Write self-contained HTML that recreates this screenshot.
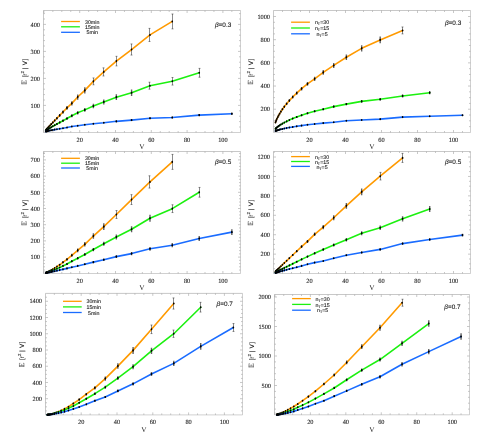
<!DOCTYPE html>
<html><head><meta charset="utf-8"><title>E[r^2|V] panels</title>
<style>
html,body{margin:0;padding:0;background:#fff;}
svg{display:block;}
text{font-family:"Liberation Serif",serif;fill:#222;text-rendering:geometricPrecision;filter:grayscale(1);}
</style></head>
<body>
<svg width="489" height="445" viewBox="0 0 489 445">

<rect width="489" height="445" fill="#fff"/>
<path d="M43.9 132.5v-2.5M43.9 10.5v2.5M52.85 132.5v-1.5M52.85 10.5v1.5M61.8 132.5v-1.5M61.8 10.5v1.5M70.75 132.5v-1.5M70.75 10.5v1.5M79.7 132.5v-2.5M79.7 10.5v2.5M88.65 132.5v-1.5M88.65 10.5v1.5M97.6 132.5v-1.5M97.6 10.5v1.5M106.55 132.5v-1.5M106.55 10.5v1.5M115.5 132.5v-2.5M115.5 10.5v2.5M124.45 132.5v-1.5M124.45 10.5v1.5M133.4 132.5v-1.5M133.4 10.5v1.5M142.35 132.5v-1.5M142.35 10.5v1.5M151.3 132.5v-2.5M151.3 10.5v2.5M160.25 132.5v-1.5M160.25 10.5v1.5M169.2 132.5v-1.5M169.2 10.5v1.5M178.15 132.5v-1.5M178.15 10.5v1.5M187.1 132.5v-2.5M187.1 10.5v2.5M196.05 132.5v-1.5M196.05 10.5v1.5M205 132.5v-1.5M205 10.5v1.5M213.95 132.5v-1.5M213.95 10.5v1.5M222.9 132.5v-2.5M222.9 10.5v2.5M231.85 132.5v-1.5M231.85 10.5v1.5M43.5 127h1.5M240.5 127h-1.5M43.5 121.6h1.5M240.5 121.6h-1.5M43.5 116.2h1.5M240.5 116.2h-1.5M43.5 110.8h1.5M240.5 110.8h-1.5M43.5 105.4h2.5M240.5 105.4h-2.5M43.5 100h1.5M240.5 100h-1.5M43.5 94.6h1.5M240.5 94.6h-1.5M43.5 89.2h1.5M240.5 89.2h-1.5M43.5 83.8h1.5M240.5 83.8h-1.5M43.5 78.4h2.5M240.5 78.4h-2.5M43.5 73h1.5M240.5 73h-1.5M43.5 67.6h1.5M240.5 67.6h-1.5M43.5 62.2h1.5M240.5 62.2h-1.5M43.5 56.8h1.5M240.5 56.8h-1.5M43.5 51.4h2.5M240.5 51.4h-2.5M43.5 46h1.5M240.5 46h-1.5M43.5 40.6h1.5M240.5 40.6h-1.5M43.5 35.2h1.5M240.5 35.2h-1.5M43.5 29.8h1.5M240.5 29.8h-1.5M43.5 24.4h2.5M240.5 24.4h-2.5M43.5 19h1.5M240.5 19h-1.5M43.5 13.6h1.5M240.5 13.6h-1.5" stroke="#909090" stroke-width="0.5" fill="none"/>
<path d="M43.5 132.5V10.5H240.5" fill="none" stroke="#9c9c9c" stroke-width="0.56"/>
<path d="M43.5 132.5H240.5V10.5" fill="none" stroke="#9c9c9c" stroke-width="0.48"/>
<text transform="translate(79.70 141.70)" fill="#222" stroke="#222" stroke-width="0.1" xml:space="preserve"><tspan x="-3.15" y="0.00" font-family='"Liberation Serif", serif' font-size="6.3">20</tspan></text>
<text transform="translate(115.50 141.70)" fill="#222" stroke="#222" stroke-width="0.1" xml:space="preserve"><tspan x="-3.15" y="0.00" font-family='"Liberation Serif", serif' font-size="6.3">40</tspan></text>
<text transform="translate(151.30 141.70)" fill="#222" stroke="#222" stroke-width="0.1" xml:space="preserve"><tspan x="-3.15" y="0.00" font-family='"Liberation Serif", serif' font-size="6.3">60</tspan></text>
<text transform="translate(187.10 141.70)" fill="#222" stroke="#222" stroke-width="0.1" xml:space="preserve"><tspan x="-3.15" y="0.00" font-family='"Liberation Serif", serif' font-size="6.3">80</tspan></text>
<text transform="translate(222.90 141.70)" fill="#222" stroke="#222" stroke-width="0.1" xml:space="preserve"><tspan x="-4.72" y="0.00" font-family='"Liberation Serif", serif' font-size="6.3">100</tspan></text>
<text transform="translate(40.00 107.60)" fill="#222" stroke="#222" stroke-width="0.1" xml:space="preserve"><tspan x="-9.45" y="0.00" font-family='"Liberation Serif", serif' font-size="6.3">100</tspan></text>
<text transform="translate(40.00 80.60)" fill="#222" stroke="#222" stroke-width="0.1" xml:space="preserve"><tspan x="-9.45" y="0.00" font-family='"Liberation Serif", serif' font-size="6.3">200</tspan></text>
<text transform="translate(40.00 53.60)" fill="#222" stroke="#222" stroke-width="0.1" xml:space="preserve"><tspan x="-9.45" y="0.00" font-family='"Liberation Serif", serif' font-size="6.3">300</tspan></text>
<text transform="translate(40.00 26.60)" fill="#222" stroke="#222" stroke-width="0.1" xml:space="preserve"><tspan x="-9.45" y="0.00" font-family='"Liberation Serif", serif' font-size="6.3">400</tspan></text>
<text transform="translate(142.00 149.20)" fill="#333" xml:space="preserve"><tspan x="-2.67" y="0.00" font-family='"Liberation Serif", serif' font-size="7.4">V</tspan></text>
<g transform="translate(26.5 71.5) rotate(-90)"><path d="M-12.35 0V-5.00M-11.40 0V-5.00M-12.65 -0.25H-8.95M-12.65 -4.75H-8.95M-11.40 -2.50H-9.75M-9.15 -0.25v-0.9M-9.15 -4.75v0.9" stroke="#222" stroke-width="0.42" fill="none"/></g>
<text transform="translate(26.50 71.50) rotate(-90)" fill="#222" stroke="#222" stroke-width="0.1"><tspan x="-5.85" y="0.00" font-family='"Liberation Sans", sans-serif' font-size="6.3">[</tspan><tspan x="-4.15" y="0.00" font-family='"Liberation Sans", sans-serif' font-size="6.3">r</tspan><tspan x="-1.95" y="-2.90" font-family='"Liberation Sans", sans-serif' font-size="4.3">2</tspan><tspan x="2.25" y="0.00" font-family='"Liberation Sans", sans-serif' font-size="6.3">|</tspan><tspan x="6.20" y="0.00" font-family='"Liberation Sans", sans-serif' font-size="6.3">V</tspan><tspan x="10.95" y="0.00" font-family='"Liberation Sans", sans-serif' font-size="6.3">]</tspan></text>
<path d="M61.1 21.5H79.9" stroke="#FF9A00" stroke-width="1.3" fill="none"/>
<text transform="translate(92.20 23.60)" fill="#2a2a2a" stroke="#2a2a2a" stroke-width="0.12" xml:space="preserve"><tspan x="-7.22" y="0.00" font-family='"Liberation Sans", sans-serif' font-size="5.3">30min</tspan></text>
<path d="M61.1 26.8H79.9" stroke="#1CF010" stroke-width="1.3" fill="none"/>
<text transform="translate(92.20 28.90)" fill="#2a2a2a" stroke="#2a2a2a" stroke-width="0.12" xml:space="preserve"><tspan x="-7.22" y="0.00" font-family='"Liberation Sans", sans-serif' font-size="5.3">15min</tspan></text>
<path d="M61.1 32.3H79.9" stroke="#1A6CFF" stroke-width="1.3" fill="none"/>
<text transform="translate(92.20 34.40)" fill="#2a2a2a" stroke="#2a2a2a" stroke-width="0.12" xml:space="preserve"><tspan x="-5.74" y="0.00" font-family='"Liberation Sans", sans-serif' font-size="5.3">5min</tspan></text>
<text transform="translate(223.10 26.80)" fill="#2a2a2a" stroke="#2a2a2a" stroke-width="0.12" xml:space="preserve"><tspan x="-8.15" y="0.00" font-family='"Liberation Sans", sans-serif' font-size="6.4" font-style="italic">β</tspan><tspan x="-4.49" y="0.00" font-family='"Liberation Sans", sans-serif' font-size="6.4">=0.3</tspan></text>
<path d="M172.27 21.43L149.99 34.93L131.58 49.51L116.36 61.12L103.79 71.92L93.39 81.37L84.8 90.42L77.7 97.03L71.84 103.35L66.99 107.91L62.98 112.02L59.67 115.39L56.93 118.21L54.67 120.56L52.8 122.52L51.26 124.16L49.98 125.52L48.92 126.66L48.05 127.61L47.33 128.41L46.74 129.07L46.24 129.62L45.84 130.08" stroke="#FF9A00" stroke-width="1.6" fill="none" stroke-linejoin="round" stroke-linecap="round"/>
<path d="M172.5 14V28.86M171.55 14h1.9M171.55 28.86h1.9M149.5 28.4V41.46M148.55 28.4h1.9M148.55 41.46h1.9M131.5 43.96V55.06M130.55 43.96h1.9M130.55 55.06h1.9M116.5 56.34V65.9M115.55 56.34h1.9M115.55 65.9h1.9M103.5 67.87V75.97M102.55 67.87h1.9M102.55 75.97h1.9M93.5 77.95V84.79M92.55 77.95h1.9M92.55 84.79h1.9M49.98 125.06V125.98M48.92 126.28V127.05M48.05 127.26V127.96M47.33 128.06V128.76M46.74 128.72V129.42M46.24 129.27V129.97M45.84 129.73V130.43" stroke="#2a2a2a" stroke-width="0.55" fill="none"/>
<path d="M84.1 87.35h1.4v6.13h-1.4zM77 94.41h1.4v5.24h-1.4zM71.14 101.15h1.4v4.39h-1.4zM66.29 106.02h1.4v3.78h-1.4zM62.28 110.4h1.4v3.23h-1.4zM58.97 114h1.4v2.78h-1.4zM56.23 117.01h1.4v2.4h-1.4zM53.97 119.52h1.4v2.09h-1.4zM52.1 121.61h1.4v1.82h-1.4zM50.56 123.35h1.4v1.6h-1.4z" fill="#000" fill-opacity="0.62"/>
<g fill="#000"><ellipse cx="172.27" cy="21.43" rx="0.82" ry="1.05"/><ellipse cx="149.99" cy="34.93" rx="0.82" ry="1.05"/><ellipse cx="131.58" cy="49.51" rx="0.82" ry="1.05"/><ellipse cx="116.36" cy="61.12" rx="0.82" ry="1.05"/><ellipse cx="103.79" cy="71.92" rx="0.82" ry="1.05"/><ellipse cx="93.39" cy="81.37" rx="0.82" ry="1.05"/><ellipse cx="84.8" cy="90.42" rx="0.82" ry="1.05"/><ellipse cx="77.7" cy="97.03" rx="0.82" ry="1.05"/><ellipse cx="71.84" cy="103.35" rx="0.82" ry="1.05"/><ellipse cx="66.99" cy="107.91" rx="0.82" ry="1.05"/><ellipse cx="62.98" cy="112.02" rx="0.82" ry="1.05"/><ellipse cx="59.67" cy="115.39" rx="0.82" ry="1.05"/><ellipse cx="56.93" cy="118.21" rx="0.82" ry="1.05"/><ellipse cx="54.67" cy="120.56" rx="0.82" ry="1.05"/><ellipse cx="52.8" cy="122.52" rx="0.82" ry="1.05"/><ellipse cx="51.26" cy="124.16" rx="0.82" ry="1.05"/><ellipse cx="49.98" cy="125.52" rx="0.82" ry="1.05"/><ellipse cx="48.92" cy="126.66" rx="0.82" ry="1.05"/><ellipse cx="48.05" cy="127.61" rx="0.82" ry="1.05"/><ellipse cx="47.33" cy="128.41" rx="0.82" ry="1.05"/><ellipse cx="46.74" cy="129.07" rx="0.82" ry="1.05"/><ellipse cx="46.24" cy="129.62" rx="0.82" ry="1.05"/><ellipse cx="45.84" cy="130.08" rx="0.82" ry="1.05"/></g>
<path d="M199.23 72.81L172.27 81.29L149.99 85.69L131.58 92.71L116.36 97.17L103.79 101.89L93.39 105.94L84.8 109.88L77.7 112.83L71.84 115.77L66.99 118.55L62.98 120.68L59.67 122.43L56.93 123.93L54.67 125.19L52.8 126.27L51.26 127.19L49.98 127.97L48.92 128.63L48.05 129.19L47.33 129.67L46.74 130.08L46.24 130.43L45.84 130.72" stroke="#1CF010" stroke-width="1.6" fill="none" stroke-linejoin="round" stroke-linecap="round"/>
<path d="M199.5 68.4V77.22M198.55 68.4h1.9M198.55 77.22h1.9M172.5 77.51V85.07M171.55 77.51h1.9M171.55 85.07h1.9M149.5 82.23V89.15M148.55 82.23h1.9M148.55 89.15h1.9M52.8 125.82V126.72M51.26 126.8V127.57M49.98 127.62V128.32M48.92 128.28V128.98M48.05 128.84V129.54M47.33 129.32V130.02M46.74 129.73V130.43M46.24 130.08V130.78M45.84 130.37V131.07" stroke="#2a2a2a" stroke-width="0.55" fill="none"/>
<path d="M130.88 89.52h1.4v6.37h-1.4zM115.66 94.31h1.4v5.71h-1.4zM103.09 99.38h1.4v5.02h-1.4zM92.69 103.73h1.4v4.42h-1.4zM84.1 107.97h1.4v3.83h-1.4zM77 111.13h1.4v3.4h-1.4zM71.14 114.29h1.4v2.96h-1.4zM66.29 117.27h1.4v2.55h-1.4zM62.28 119.56h1.4v2.23h-1.4zM58.97 121.45h1.4v1.97h-1.4zM56.23 123.05h1.4v1.75h-1.4zM53.97 124.41h1.4v1.57h-1.4z" fill="#000" fill-opacity="0.62"/>
<g fill="#000"><ellipse cx="199.23" cy="72.81" rx="0.82" ry="1.05"/><ellipse cx="172.27" cy="81.29" rx="0.82" ry="1.05"/><ellipse cx="149.99" cy="85.69" rx="0.82" ry="1.05"/><ellipse cx="131.58" cy="92.71" rx="0.82" ry="1.05"/><ellipse cx="116.36" cy="97.17" rx="0.82" ry="1.05"/><ellipse cx="103.79" cy="101.89" rx="0.82" ry="1.05"/><ellipse cx="93.39" cy="105.94" rx="0.82" ry="1.05"/><ellipse cx="84.8" cy="109.88" rx="0.82" ry="1.05"/><ellipse cx="77.7" cy="112.83" rx="0.82" ry="1.05"/><ellipse cx="71.84" cy="115.77" rx="0.82" ry="1.05"/><ellipse cx="66.99" cy="118.55" rx="0.82" ry="1.05"/><ellipse cx="62.98" cy="120.68" rx="0.82" ry="1.05"/><ellipse cx="59.67" cy="122.43" rx="0.82" ry="1.05"/><ellipse cx="56.93" cy="123.93" rx="0.82" ry="1.05"/><ellipse cx="54.67" cy="125.19" rx="0.82" ry="1.05"/><ellipse cx="52.8" cy="126.27" rx="0.82" ry="1.05"/><ellipse cx="51.26" cy="127.19" rx="0.82" ry="1.05"/><ellipse cx="49.98" cy="127.97" rx="0.82" ry="1.05"/><ellipse cx="48.92" cy="128.63" rx="0.82" ry="1.05"/><ellipse cx="48.05" cy="129.19" rx="0.82" ry="1.05"/><ellipse cx="47.33" cy="129.67" rx="0.82" ry="1.05"/><ellipse cx="46.74" cy="130.08" rx="0.82" ry="1.05"/><ellipse cx="46.24" cy="130.43" rx="0.82" ry="1.05"/><ellipse cx="45.84" cy="130.72" rx="0.82" ry="1.05"/></g>
<path d="M231.85 113.77L199.23 115.12L172.27 117.55L149.99 118.23L131.58 120.09L116.36 121.33L103.79 122.81L93.39 123.79L84.8 124.76L77.7 125.76L71.84 126.57L66.99 127.57L62.98 128.22L59.67 128.74L56.93 129.2L54.67 129.6L52.8 129.95L51.26 130.25L49.98 130.52L48.92 130.76L48.05 130.96L47.33 131.14L46.74 131.3L46.24 131.44L45.84 131.56" stroke="#1A6CFF" stroke-width="1.6" fill="none" stroke-linejoin="round" stroke-linecap="round"/>
<path d="M103.79 122.34V123.29M93.39 123.36V124.22M84.8 124.38V125.14M77.7 125.41V126.11M71.84 126.22V126.92M66.99 127.22V127.92M62.98 127.87V128.56M59.67 128.39V129.09M56.93 128.85V129.55M54.67 129.25V129.95M52.8 129.6V130.3M51.26 129.9V130.6M49.98 130.17V130.87M48.92 130.41V131.11M48.05 130.61V131.31M47.33 130.79V131.49M46.74 130.95V131.65M46.24 131.09V131.79M45.84 131.21V131.91" stroke="#2a2a2a" stroke-width="0.55" fill="none"/>
<path d="M231.15 112.59h1.4v2.36h-1.4zM198.53 114.01h1.4v2.23h-1.4zM171.57 116.56h1.4v1.99h-1.4zM149.29 117.27h1.4v1.92h-1.4zM130.88 119.22h1.4v1.73h-1.4zM115.66 120.53h1.4v1.61h-1.4z" fill="#000" fill-opacity="0.62"/>
<g fill="#000"><ellipse cx="231.85" cy="113.77" rx="0.82" ry="1.05"/><ellipse cx="199.23" cy="115.12" rx="0.82" ry="1.05"/><ellipse cx="172.27" cy="117.55" rx="0.82" ry="1.05"/><ellipse cx="149.99" cy="118.23" rx="0.82" ry="1.05"/><ellipse cx="131.58" cy="120.09" rx="0.82" ry="1.05"/><ellipse cx="116.36" cy="121.33" rx="0.82" ry="1.05"/><ellipse cx="103.79" cy="122.81" rx="0.82" ry="1.05"/><ellipse cx="93.39" cy="123.79" rx="0.82" ry="1.05"/><ellipse cx="84.8" cy="124.76" rx="0.82" ry="1.05"/><ellipse cx="77.7" cy="125.76" rx="0.82" ry="1.05"/><ellipse cx="71.84" cy="126.57" rx="0.82" ry="1.05"/><ellipse cx="66.99" cy="127.57" rx="0.82" ry="1.05"/><ellipse cx="62.98" cy="128.22" rx="0.82" ry="1.05"/><ellipse cx="59.67" cy="128.74" rx="0.82" ry="1.05"/><ellipse cx="56.93" cy="129.2" rx="0.82" ry="1.05"/><ellipse cx="54.67" cy="129.6" rx="0.82" ry="1.05"/><ellipse cx="52.8" cy="129.95" rx="0.82" ry="1.05"/><ellipse cx="51.26" cy="130.25" rx="0.82" ry="1.05"/><ellipse cx="49.98" cy="130.52" rx="0.82" ry="1.05"/><ellipse cx="48.92" cy="130.76" rx="0.82" ry="1.05"/><ellipse cx="48.05" cy="130.96" rx="0.82" ry="1.05"/><ellipse cx="47.33" cy="131.14" rx="0.82" ry="1.05"/><ellipse cx="46.74" cy="131.3" rx="0.82" ry="1.05"/><ellipse cx="46.24" cy="131.44" rx="0.82" ry="1.05"/><ellipse cx="45.84" cy="131.56" rx="0.82" ry="1.05"/></g>
<path d="M282.5 132.5v-1.5M282.5 10.5v1.5M291.5 132.5v-1.5M291.5 10.5v1.5M300.5 132.5v-1.5M300.5 10.5v1.5M309.5 132.5v-2.5M309.5 10.5v2.5M318.5 132.5v-1.5M318.5 10.5v1.5M327.5 132.5v-1.5M327.5 10.5v1.5M336.5 132.5v-1.5M336.5 10.5v1.5M345.5 132.5v-2.5M345.5 10.5v2.5M354.5 132.5v-1.5M354.5 10.5v1.5M363.5 132.5v-1.5M363.5 10.5v1.5M372.5 132.5v-1.5M372.5 10.5v1.5M381.5 132.5v-2.5M381.5 10.5v2.5M390.5 132.5v-1.5M390.5 10.5v1.5M399.5 132.5v-1.5M399.5 10.5v1.5M408.5 132.5v-1.5M408.5 10.5v1.5M417.5 132.5v-2.5M417.5 10.5v2.5M426.5 132.5v-1.5M426.5 10.5v1.5M435.5 132.5v-1.5M435.5 10.5v1.5M444.5 132.5v-1.5M444.5 10.5v1.5M453.5 132.5v-2.5M453.5 10.5v2.5M462.5 132.5v-1.5M462.5 10.5v1.5M273.5 126.61h1.5M470.5 126.61h-1.5M273.5 120.81h1.5M470.5 120.81h-1.5M273.5 115.02h1.5M470.5 115.02h-1.5M273.5 109.22h2.5M470.5 109.22h-2.5M273.5 103.43h1.5M470.5 103.43h-1.5M273.5 97.63h1.5M470.5 97.63h-1.5M273.5 91.84h1.5M470.5 91.84h-1.5M273.5 86.04h2.5M470.5 86.04h-2.5M273.5 80.25h1.5M470.5 80.25h-1.5M273.5 74.45h1.5M470.5 74.45h-1.5M273.5 68.66h1.5M470.5 68.66h-1.5M273.5 62.86h2.5M470.5 62.86h-2.5M273.5 57.06h1.5M470.5 57.06h-1.5M273.5 51.27h1.5M470.5 51.27h-1.5M273.5 45.48h1.5M470.5 45.48h-1.5M273.5 39.68h2.5M470.5 39.68h-2.5M273.5 33.89h1.5M470.5 33.89h-1.5M273.5 28.09h1.5M470.5 28.09h-1.5M273.5 22.3h1.5M470.5 22.3h-1.5M273.5 16.5h2.5M470.5 16.5h-2.5" stroke="#909090" stroke-width="0.5" fill="none"/>
<path d="M273.5 132.5V10.5H470.5" fill="none" stroke="#9c9c9c" stroke-width="0.56"/>
<path d="M273.5 132.5H470.5V10.5" fill="none" stroke="#9c9c9c" stroke-width="0.48"/>
<text transform="translate(309.50 141.70)" fill="#222" stroke="#222" stroke-width="0.1" xml:space="preserve"><tspan x="-3.15" y="0.00" font-family='"Liberation Serif", serif' font-size="6.3">20</tspan></text>
<text transform="translate(345.50 141.70)" fill="#222" stroke="#222" stroke-width="0.1" xml:space="preserve"><tspan x="-3.15" y="0.00" font-family='"Liberation Serif", serif' font-size="6.3">40</tspan></text>
<text transform="translate(381.50 141.70)" fill="#222" stroke="#222" stroke-width="0.1" xml:space="preserve"><tspan x="-3.15" y="0.00" font-family='"Liberation Serif", serif' font-size="6.3">60</tspan></text>
<text transform="translate(417.50 141.70)" fill="#222" stroke="#222" stroke-width="0.1" xml:space="preserve"><tspan x="-3.15" y="0.00" font-family='"Liberation Serif", serif' font-size="6.3">80</tspan></text>
<text transform="translate(453.50 141.70)" fill="#222" stroke="#222" stroke-width="0.1" xml:space="preserve"><tspan x="-4.72" y="0.00" font-family='"Liberation Serif", serif' font-size="6.3">100</tspan></text>
<text transform="translate(270.00 111.42)" fill="#222" stroke="#222" stroke-width="0.1" xml:space="preserve"><tspan x="-9.45" y="0.00" font-family='"Liberation Serif", serif' font-size="6.3">200</tspan></text>
<text transform="translate(270.00 88.24)" fill="#222" stroke="#222" stroke-width="0.1" xml:space="preserve"><tspan x="-9.45" y="0.00" font-family='"Liberation Serif", serif' font-size="6.3">400</tspan></text>
<text transform="translate(270.00 65.06)" fill="#222" stroke="#222" stroke-width="0.1" xml:space="preserve"><tspan x="-9.45" y="0.00" font-family='"Liberation Serif", serif' font-size="6.3">600</tspan></text>
<text transform="translate(270.00 41.88)" fill="#222" stroke="#222" stroke-width="0.1" xml:space="preserve"><tspan x="-9.45" y="0.00" font-family='"Liberation Serif", serif' font-size="6.3">800</tspan></text>
<text transform="translate(270.00 18.70)" fill="#222" stroke="#222" stroke-width="0.1" xml:space="preserve"><tspan x="-12.60" y="0.00" font-family='"Liberation Serif", serif' font-size="6.3">1000</tspan></text>
<text transform="translate(372.00 149.20)" fill="#333" xml:space="preserve"><tspan x="-2.67" y="0.00" font-family='"Liberation Serif", serif' font-size="7.4">V</tspan></text>
<g transform="translate(252.9 71.5) rotate(-90)"><path d="M-12.35 0V-5.00M-11.40 0V-5.00M-12.65 -0.25H-8.95M-12.65 -4.75H-8.95M-11.40 -2.50H-9.75M-9.15 -0.25v-0.9M-9.15 -4.75v0.9" stroke="#222" stroke-width="0.42" fill="none"/></g>
<text transform="translate(252.90 71.50) rotate(-90)" fill="#222" stroke="#222" stroke-width="0.1"><tspan x="-5.85" y="0.00" font-family='"Liberation Sans", sans-serif' font-size="6.3">[</tspan><tspan x="-4.15" y="0.00" font-family='"Liberation Sans", sans-serif' font-size="6.3">r</tspan><tspan x="-1.95" y="-2.90" font-family='"Liberation Sans", sans-serif' font-size="4.3">2</tspan><tspan x="2.25" y="0.00" font-family='"Liberation Sans", sans-serif' font-size="6.3">|</tspan><tspan x="6.20" y="0.00" font-family='"Liberation Sans", sans-serif' font-size="6.3">V</tspan><tspan x="10.95" y="0.00" font-family='"Liberation Sans", sans-serif' font-size="6.3">]</tspan></text>
<path d="M291.1 22.2H309.9" stroke="#FF9A00" stroke-width="1.3" fill="none"/>
<text transform="translate(322.00 24.30)" fill="#2a2a2a" stroke="#2a2a2a" stroke-width="0.12" xml:space="preserve"><tspan x="-7.10" y="0.00" font-family='"Liberation Sans", sans-serif' font-size="5.3">n</tspan><tspan x="-4.15" y="1.10" font-family='"Liberation Sans", sans-serif' font-size="3.7">T</tspan><tspan x="-1.89" y="0.00" font-family='"Liberation Sans", sans-serif' font-size="5.3">=30</tspan></text>
<path d="M291.1 28H309.9" stroke="#1CF010" stroke-width="1.3" fill="none"/>
<text transform="translate(322.00 30.10)" fill="#2a2a2a" stroke="#2a2a2a" stroke-width="0.12" xml:space="preserve"><tspan x="-7.10" y="0.00" font-family='"Liberation Sans", sans-serif' font-size="5.3">n</tspan><tspan x="-4.15" y="1.10" font-family='"Liberation Sans", sans-serif' font-size="3.7">T</tspan><tspan x="-1.89" y="0.00" font-family='"Liberation Sans", sans-serif' font-size="5.3">=15</tspan></text>
<path d="M291.1 33.8H309.9" stroke="#1A6CFF" stroke-width="1.3" fill="none"/>
<text transform="translate(322.00 35.90)" fill="#2a2a2a" stroke="#2a2a2a" stroke-width="0.12" xml:space="preserve"><tspan x="-5.63" y="0.00" font-family='"Liberation Sans", sans-serif' font-size="5.3">n</tspan><tspan x="-2.68" y="1.10" font-family='"Liberation Sans", sans-serif' font-size="3.7">T</tspan><tspan x="-0.42" y="0.00" font-family='"Liberation Sans", sans-serif' font-size="5.3">=5</tspan></text>
<text transform="translate(453.10 25.00)" fill="#2a2a2a" stroke="#2a2a2a" stroke-width="0.12" xml:space="preserve"><tspan x="-8.15" y="0.00" font-family='"Liberation Sans", sans-serif' font-size="6.4" font-style="italic">β</tspan><tspan x="-4.49" y="0.00" font-family='"Liberation Sans", sans-serif' font-size="6.4">=0.3</tspan></text>
<path d="M402.59 30.43L380.19 39.9L361.67 48.33L346.37 57.23L333.72 65.43L323.27 72.4L314.63 78.82L307.49 83.91L301.59 88.64L296.72 93.06L292.69 97.02L289.36 100.59L286.61 103.8L284.33 106.68L282.45 109.27L280.9 111.6L279.61 113.69L278.55 115.57L277.68 117.26L276.95 118.78L276.35 120.15L275.86 121.38L275.45 122.48" stroke="#FF9A00" stroke-width="1.6" fill="none" stroke-linejoin="round" stroke-linecap="round"/>
<path d="M402.5 26.97V33.89M401.55 26.97h1.9M401.55 33.89h1.9M276.95 118.32V119.24M276.35 119.74V120.56M275.86 121.01V121.75M275.45 122.13V122.83" stroke="#2a2a2a" stroke-width="0.55" fill="none"/>
<path d="M379.49 36.51h1.4v6.78h-1.4zM360.97 45.23h1.4v6.21h-1.4zM345.67 54.42h1.4v5.61h-1.4zM333.02 62.9h1.4v5.05h-1.4zM322.57 70.12h1.4v4.57h-1.4zM313.93 76.76h1.4v4.14h-1.4zM306.79 82.01h1.4v3.79h-1.4zM300.89 86.91h1.4v3.47h-1.4zM296.02 91.47h1.4v3.17h-1.4zM291.99 95.57h1.4v2.9h-1.4zM288.66 99.26h1.4v2.66h-1.4zM285.91 102.58h1.4v2.44h-1.4zM283.63 105.56h1.4v2.24h-1.4zM281.75 108.24h1.4v2.07h-1.4zM280.2 110.64h1.4v1.91h-1.4zM278.91 112.81h1.4v1.77h-1.4zM277.85 114.75h1.4v1.64h-1.4zM276.98 116.5h1.4v1.52h-1.4z" fill="#000" fill-opacity="0.62"/>
<g fill="#000"><ellipse cx="402.59" cy="30.43" rx="0.82" ry="1.05"/><ellipse cx="380.19" cy="39.9" rx="0.82" ry="1.05"/><ellipse cx="361.67" cy="48.33" rx="0.82" ry="1.05"/><ellipse cx="346.37" cy="57.23" rx="0.82" ry="1.05"/><ellipse cx="333.72" cy="65.43" rx="0.82" ry="1.05"/><ellipse cx="323.27" cy="72.4" rx="0.82" ry="1.05"/><ellipse cx="314.63" cy="78.82" rx="0.82" ry="1.05"/><ellipse cx="307.49" cy="83.91" rx="0.82" ry="1.05"/><ellipse cx="301.59" cy="88.64" rx="0.82" ry="1.05"/><ellipse cx="296.72" cy="93.06" rx="0.82" ry="1.05"/><ellipse cx="292.69" cy="97.02" rx="0.82" ry="1.05"/><ellipse cx="289.36" cy="100.59" rx="0.82" ry="1.05"/><ellipse cx="286.61" cy="103.8" rx="0.82" ry="1.05"/><ellipse cx="284.33" cy="106.68" rx="0.82" ry="1.05"/><ellipse cx="282.45" cy="109.27" rx="0.82" ry="1.05"/><ellipse cx="280.9" cy="111.6" rx="0.82" ry="1.05"/><ellipse cx="279.61" cy="113.69" rx="0.82" ry="1.05"/><ellipse cx="278.55" cy="115.57" rx="0.82" ry="1.05"/><ellipse cx="277.68" cy="117.26" rx="0.82" ry="1.05"/><ellipse cx="276.95" cy="118.78" rx="0.82" ry="1.05"/><ellipse cx="276.35" cy="120.15" rx="0.82" ry="1.05"/><ellipse cx="275.86" cy="121.38" rx="0.82" ry="1.05"/><ellipse cx="275.45" cy="122.48" rx="0.82" ry="1.05"/></g>
<path d="M429.7 92.68L402.59 95.92L380.19 99.3L361.67 101.35L346.37 104.12L333.72 106.6L323.27 109.2L314.63 111.2L307.49 113.3L301.59 115.32L296.72 116.94L292.69 118.6L289.36 120.08L286.61 121.41L284.33 122.59L282.45 123.64L280.9 124.57L279.61 125.41L278.55 126.16L277.68 126.82L276.95 127.41L276.35 127.94L275.86 128.41L275.45 128.84" stroke="#1CF010" stroke-width="1.6" fill="none" stroke-linejoin="round" stroke-linecap="round"/>
<path d="M292.69 118.12V119.08M289.36 119.66V120.51M286.61 121.03V121.79M284.33 122.24V122.94M282.45 123.29V123.99M280.9 124.22V124.92M279.61 125.06V125.76M278.55 125.81V126.51M277.68 126.47V127.17M276.95 127.06V127.76M276.35 127.59V128.29M275.86 128.06V128.76M275.45 128.49V129.19" stroke="#2a2a2a" stroke-width="0.55" fill="none"/>
<path d="M429 91.05h1.4v3.27h-1.4zM401.89 94.39h1.4v3.05h-1.4zM379.49 97.9h1.4v2.81h-1.4zM360.97 100.01h1.4v2.67h-1.4zM345.67 102.88h1.4v2.47h-1.4zM333.02 105.45h1.4v2.3h-1.4zM322.57 108.14h1.4v2.12h-1.4zM313.93 110.21h1.4v1.98h-1.4zM306.79 112.39h1.4v1.83h-1.4zM300.89 114.48h1.4v1.69h-1.4zM296.02 116.15h1.4v1.58h-1.4z" fill="#000" fill-opacity="0.62"/>
<g fill="#000"><ellipse cx="429.7" cy="92.68" rx="0.82" ry="1.05"/><ellipse cx="402.59" cy="95.92" rx="0.82" ry="1.05"/><ellipse cx="380.19" cy="99.3" rx="0.82" ry="1.05"/><ellipse cx="361.67" cy="101.35" rx="0.82" ry="1.05"/><ellipse cx="346.37" cy="104.12" rx="0.82" ry="1.05"/><ellipse cx="333.72" cy="106.6" rx="0.82" ry="1.05"/><ellipse cx="323.27" cy="109.2" rx="0.82" ry="1.05"/><ellipse cx="314.63" cy="111.2" rx="0.82" ry="1.05"/><ellipse cx="307.49" cy="113.3" rx="0.82" ry="1.05"/><ellipse cx="301.59" cy="115.32" rx="0.82" ry="1.05"/><ellipse cx="296.72" cy="116.94" rx="0.82" ry="1.05"/><ellipse cx="292.69" cy="118.6" rx="0.82" ry="1.05"/><ellipse cx="289.36" cy="120.08" rx="0.82" ry="1.05"/><ellipse cx="286.61" cy="121.41" rx="0.82" ry="1.05"/><ellipse cx="284.33" cy="122.59" rx="0.82" ry="1.05"/><ellipse cx="282.45" cy="123.64" rx="0.82" ry="1.05"/><ellipse cx="280.9" cy="124.57" rx="0.82" ry="1.05"/><ellipse cx="279.61" cy="125.41" rx="0.82" ry="1.05"/><ellipse cx="278.55" cy="126.16" rx="0.82" ry="1.05"/><ellipse cx="277.68" cy="126.82" rx="0.82" ry="1.05"/><ellipse cx="276.95" cy="127.41" rx="0.82" ry="1.05"/><ellipse cx="276.35" cy="127.94" rx="0.82" ry="1.05"/><ellipse cx="275.86" cy="128.41" rx="0.82" ry="1.05"/><ellipse cx="275.45" cy="128.84" rx="0.82" ry="1.05"/></g>
<path d="M462.5 115.32L429.7 116.25L402.59 117.1L380.19 119.13L361.67 119.94L346.37 120.75L333.72 122.3L323.27 123.09L314.63 123.98L307.49 124.79L301.59 125.6L296.72 126.33L292.69 126.98L289.36 127.56L286.61 128.08L284.33 128.54L282.45 128.95L280.9 129.32L279.61 129.64L278.55 129.93L277.68 130.19L276.95 130.42L276.35 130.63L275.86 130.81L275.45 130.97" stroke="#1A6CFF" stroke-width="1.6" fill="none" stroke-linejoin="round" stroke-linecap="round"/>
<path d="M429.7 115.76V116.73M402.59 116.64V117.56M380.19 118.74V119.53M361.67 119.57V120.31M346.37 120.4V121.1M333.72 121.95V122.65M323.27 122.74V123.44M314.63 123.63V124.33M307.49 124.44V125.14M301.59 125.25V125.95M296.72 125.98V126.68M292.69 126.63V127.33M289.36 127.21V127.91M286.61 127.73V128.43M284.33 128.19V128.89M282.45 128.6V129.3M280.9 128.97V129.67M279.61 129.29V129.99M278.55 129.58V130.28M277.68 129.84V130.54M276.95 130.07V130.77M276.35 130.28V130.98M275.86 130.46V131.16M275.45 130.62V131.32" stroke="#2a2a2a" stroke-width="0.55" fill="none"/>
<path d="M461.8 114.56h1.4v1.52h-1.4z" fill="#000" fill-opacity="0.62"/>
<g fill="#000"><ellipse cx="462.5" cy="115.32" rx="0.82" ry="1.05"/><ellipse cx="429.7" cy="116.25" rx="0.82" ry="1.05"/><ellipse cx="402.59" cy="117.1" rx="0.82" ry="1.05"/><ellipse cx="380.19" cy="119.13" rx="0.82" ry="1.05"/><ellipse cx="361.67" cy="119.94" rx="0.82" ry="1.05"/><ellipse cx="346.37" cy="120.75" rx="0.82" ry="1.05"/><ellipse cx="333.72" cy="122.3" rx="0.82" ry="1.05"/><ellipse cx="323.27" cy="123.09" rx="0.82" ry="1.05"/><ellipse cx="314.63" cy="123.98" rx="0.82" ry="1.05"/><ellipse cx="307.49" cy="124.79" rx="0.82" ry="1.05"/><ellipse cx="301.59" cy="125.6" rx="0.82" ry="1.05"/><ellipse cx="296.72" cy="126.33" rx="0.82" ry="1.05"/><ellipse cx="292.69" cy="126.98" rx="0.82" ry="1.05"/><ellipse cx="289.36" cy="127.56" rx="0.82" ry="1.05"/><ellipse cx="286.61" cy="128.08" rx="0.82" ry="1.05"/><ellipse cx="284.33" cy="128.54" rx="0.82" ry="1.05"/><ellipse cx="282.45" cy="128.95" rx="0.82" ry="1.05"/><ellipse cx="280.9" cy="129.32" rx="0.82" ry="1.05"/><ellipse cx="279.61" cy="129.64" rx="0.82" ry="1.05"/><ellipse cx="278.55" cy="129.93" rx="0.82" ry="1.05"/><ellipse cx="277.68" cy="130.19" rx="0.82" ry="1.05"/><ellipse cx="276.95" cy="130.42" rx="0.82" ry="1.05"/><ellipse cx="276.35" cy="130.63" rx="0.82" ry="1.05"/><ellipse cx="275.86" cy="130.81" rx="0.82" ry="1.05"/><ellipse cx="275.45" cy="130.97" rx="0.82" ry="1.05"/></g>
<path d="M43.9 273.5v-2.5M43.9 151.5v2.5M52.85 273.5v-1.5M52.85 151.5v1.5M61.8 273.5v-1.5M61.8 151.5v1.5M70.75 273.5v-1.5M70.75 151.5v1.5M79.7 273.5v-2.5M79.7 151.5v2.5M88.65 273.5v-1.5M88.65 151.5v1.5M97.6 273.5v-1.5M97.6 151.5v1.5M106.55 273.5v-1.5M106.55 151.5v1.5M115.5 273.5v-2.5M115.5 151.5v2.5M124.45 273.5v-1.5M124.45 151.5v1.5M133.4 273.5v-1.5M133.4 151.5v1.5M142.35 273.5v-1.5M142.35 151.5v1.5M151.3 273.5v-2.5M151.3 151.5v2.5M160.25 273.5v-1.5M160.25 151.5v1.5M169.2 273.5v-1.5M169.2 151.5v1.5M178.15 273.5v-1.5M178.15 151.5v1.5M187.1 273.5v-2.5M187.1 151.5v2.5M196.05 273.5v-1.5M196.05 151.5v1.5M205 273.5v-1.5M205 151.5v1.5M213.95 273.5v-1.5M213.95 151.5v1.5M222.9 273.5v-2.5M222.9 151.5v2.5M231.85 273.5v-1.5M231.85 151.5v1.5M43.5 270.06h1.5M240.5 270.06h-1.5M43.5 266.82h1.5M240.5 266.82h-1.5M43.5 263.58h1.5M240.5 263.58h-1.5M43.5 260.34h1.5M240.5 260.34h-1.5M43.5 257.1h2.5M240.5 257.1h-2.5M43.5 253.86h1.5M240.5 253.86h-1.5M43.5 250.62h1.5M240.5 250.62h-1.5M43.5 247.38h1.5M240.5 247.38h-1.5M43.5 244.14h1.5M240.5 244.14h-1.5M43.5 240.9h2.5M240.5 240.9h-2.5M43.5 237.66h1.5M240.5 237.66h-1.5M43.5 234.42h1.5M240.5 234.42h-1.5M43.5 231.18h1.5M240.5 231.18h-1.5M43.5 227.94h1.5M240.5 227.94h-1.5M43.5 224.7h2.5M240.5 224.7h-2.5M43.5 221.46h1.5M240.5 221.46h-1.5M43.5 218.22h1.5M240.5 218.22h-1.5M43.5 214.98h1.5M240.5 214.98h-1.5M43.5 211.74h1.5M240.5 211.74h-1.5M43.5 208.5h2.5M240.5 208.5h-2.5M43.5 205.26h1.5M240.5 205.26h-1.5M43.5 202.02h1.5M240.5 202.02h-1.5M43.5 198.78h1.5M240.5 198.78h-1.5M43.5 195.54h1.5M240.5 195.54h-1.5M43.5 192.3h2.5M240.5 192.3h-2.5M43.5 189.06h1.5M240.5 189.06h-1.5M43.5 185.82h1.5M240.5 185.82h-1.5M43.5 182.58h1.5M240.5 182.58h-1.5M43.5 179.34h1.5M240.5 179.34h-1.5M43.5 176.1h2.5M240.5 176.1h-2.5M43.5 172.86h1.5M240.5 172.86h-1.5M43.5 169.62h1.5M240.5 169.62h-1.5M43.5 166.38h1.5M240.5 166.38h-1.5M43.5 163.14h1.5M240.5 163.14h-1.5M43.5 159.9h2.5M240.5 159.9h-2.5M43.5 156.66h1.5M240.5 156.66h-1.5M43.5 153.42h1.5M240.5 153.42h-1.5" stroke="#909090" stroke-width="0.5" fill="none"/>
<path d="M43.5 273.5V151.5H240.5" fill="none" stroke="#9c9c9c" stroke-width="0.56"/>
<path d="M43.5 273.5H240.5V151.5" fill="none" stroke="#9c9c9c" stroke-width="0.48"/>
<text transform="translate(79.70 282.70)" fill="#222" stroke="#222" stroke-width="0.1" xml:space="preserve"><tspan x="-3.15" y="0.00" font-family='"Liberation Serif", serif' font-size="6.3">20</tspan></text>
<text transform="translate(115.50 282.70)" fill="#222" stroke="#222" stroke-width="0.1" xml:space="preserve"><tspan x="-3.15" y="0.00" font-family='"Liberation Serif", serif' font-size="6.3">40</tspan></text>
<text transform="translate(151.30 282.70)" fill="#222" stroke="#222" stroke-width="0.1" xml:space="preserve"><tspan x="-3.15" y="0.00" font-family='"Liberation Serif", serif' font-size="6.3">60</tspan></text>
<text transform="translate(187.10 282.70)" fill="#222" stroke="#222" stroke-width="0.1" xml:space="preserve"><tspan x="-3.15" y="0.00" font-family='"Liberation Serif", serif' font-size="6.3">80</tspan></text>
<text transform="translate(222.90 282.70)" fill="#222" stroke="#222" stroke-width="0.1" xml:space="preserve"><tspan x="-4.72" y="0.00" font-family='"Liberation Serif", serif' font-size="6.3">100</tspan></text>
<text transform="translate(40.00 259.30)" fill="#222" stroke="#222" stroke-width="0.1" xml:space="preserve"><tspan x="-9.45" y="0.00" font-family='"Liberation Serif", serif' font-size="6.3">100</tspan></text>
<text transform="translate(40.00 243.10)" fill="#222" stroke="#222" stroke-width="0.1" xml:space="preserve"><tspan x="-9.45" y="0.00" font-family='"Liberation Serif", serif' font-size="6.3">200</tspan></text>
<text transform="translate(40.00 226.90)" fill="#222" stroke="#222" stroke-width="0.1" xml:space="preserve"><tspan x="-9.45" y="0.00" font-family='"Liberation Serif", serif' font-size="6.3">300</tspan></text>
<text transform="translate(40.00 210.70)" fill="#222" stroke="#222" stroke-width="0.1" xml:space="preserve"><tspan x="-9.45" y="0.00" font-family='"Liberation Serif", serif' font-size="6.3">400</tspan></text>
<text transform="translate(40.00 194.50)" fill="#222" stroke="#222" stroke-width="0.1" xml:space="preserve"><tspan x="-9.45" y="0.00" font-family='"Liberation Serif", serif' font-size="6.3">500</tspan></text>
<text transform="translate(40.00 178.30)" fill="#222" stroke="#222" stroke-width="0.1" xml:space="preserve"><tspan x="-9.45" y="0.00" font-family='"Liberation Serif", serif' font-size="6.3">600</tspan></text>
<text transform="translate(40.00 162.10)" fill="#222" stroke="#222" stroke-width="0.1" xml:space="preserve"><tspan x="-9.45" y="0.00" font-family='"Liberation Serif", serif' font-size="6.3">700</tspan></text>
<text transform="translate(142.00 290.20)" fill="#333" xml:space="preserve"><tspan x="-2.67" y="0.00" font-family='"Liberation Serif", serif' font-size="7.4">V</tspan></text>
<g transform="translate(26.5 212.5) rotate(-90)"><path d="M-12.35 0V-5.00M-11.40 0V-5.00M-12.65 -0.25H-8.95M-12.65 -4.75H-8.95M-11.40 -2.50H-9.75M-9.15 -0.25v-0.9M-9.15 -4.75v0.9" stroke="#222" stroke-width="0.42" fill="none"/></g>
<text transform="translate(26.50 212.50) rotate(-90)" fill="#222" stroke="#222" stroke-width="0.1"><tspan x="-5.85" y="0.00" font-family='"Liberation Sans", sans-serif' font-size="6.3">[</tspan><tspan x="-4.15" y="0.00" font-family='"Liberation Sans", sans-serif' font-size="6.3">r</tspan><tspan x="-1.95" y="-2.90" font-family='"Liberation Sans", sans-serif' font-size="4.3">2</tspan><tspan x="2.25" y="0.00" font-family='"Liberation Sans", sans-serif' font-size="6.3">|</tspan><tspan x="6.20" y="0.00" font-family='"Liberation Sans", sans-serif' font-size="6.3">V</tspan><tspan x="10.95" y="0.00" font-family='"Liberation Sans", sans-serif' font-size="6.3">]</tspan></text>
<path d="M61.1 158.3H79.9" stroke="#FF9A00" stroke-width="1.3" fill="none"/>
<text transform="translate(92.10 160.40)" fill="#2a2a2a" stroke="#2a2a2a" stroke-width="0.12" xml:space="preserve"><tspan x="-7.22" y="0.00" font-family='"Liberation Sans", sans-serif' font-size="5.3">30min</tspan></text>
<path d="M61.1 163.2H79.9" stroke="#1CF010" stroke-width="1.3" fill="none"/>
<text transform="translate(92.10 165.30)" fill="#2a2a2a" stroke="#2a2a2a" stroke-width="0.12" xml:space="preserve"><tspan x="-7.22" y="0.00" font-family='"Liberation Sans", sans-serif' font-size="5.3">15min</tspan></text>
<path d="M61.1 168H79.9" stroke="#1A6CFF" stroke-width="1.3" fill="none"/>
<text transform="translate(92.10 170.10)" fill="#2a2a2a" stroke="#2a2a2a" stroke-width="0.12" xml:space="preserve"><tspan x="-5.74" y="0.00" font-family='"Liberation Sans", sans-serif' font-size="5.3">5min</tspan></text>
<text transform="translate(223.10 164.20)" fill="#2a2a2a" stroke="#2a2a2a" stroke-width="0.12" xml:space="preserve"><tspan x="-8.15" y="0.00" font-family='"Liberation Sans", sans-serif' font-size="6.4" font-style="italic">β</tspan><tspan x="-4.49" y="0.00" font-family='"Liberation Sans", sans-serif' font-size="6.4">=0.5</tspan></text>
<path d="M172.27 161.89L149.99 181.93L131.58 199.59L116.36 214.49L103.79 226.64L93.39 236.04L84.8 244.3L77.7 250.36L71.84 255.32L66.99 259.37L62.98 262.32L59.67 264.78L56.93 266.65L54.67 268.11L52.8 269.25L51.26 270.14L49.98 270.83L48.92 271.37L48.05 271.8L47.33 272.13L46.74 272.38L46.24 272.59L45.84 272.74" stroke="#FF9A00" stroke-width="1.6" fill="none" stroke-linejoin="round" stroke-linecap="round"/>
<path d="M172.5 154.43V169.36M171.55 154.43h1.9M171.55 169.36h1.9M149.5 175.81V188.05M148.55 175.81h1.9M148.55 188.05h1.9M131.5 194.65V204.53M130.55 194.65h1.9M130.55 204.53h1.9M116.5 210.55V218.43M115.55 210.55h1.9M115.55 218.43h1.9M56.93 266.2V267.09M54.67 267.76V268.46M52.8 268.9V269.6M51.26 269.79V270.49M49.98 270.48V271.18M48.92 271.02V271.72M48.05 271.45V272.15M47.33 271.78V272.48M46.74 272.03V272.73M46.24 272.24V272.94M45.84 272.39V273.09" stroke="#2a2a2a" stroke-width="0.55" fill="none"/>
<path d="M103.09 223.27h1.4v6.75h-1.4zM92.69 233.29h1.4v5.49h-1.4zM84.1 242.11h1.4v4.39h-1.4zM77 248.57h1.4v3.57h-1.4zM71.14 253.86h1.4v2.91h-1.4zM66.29 258.18h1.4v2.37h-1.4zM62.28 261.33h1.4v1.97h-1.4zM58.97 263.96h1.4v1.64h-1.4z" fill="#000" fill-opacity="0.62"/>
<g fill="#000"><ellipse cx="172.27" cy="161.89" rx="0.82" ry="1.05"/><ellipse cx="149.99" cy="181.93" rx="0.82" ry="1.05"/><ellipse cx="131.58" cy="199.59" rx="0.82" ry="1.05"/><ellipse cx="116.36" cy="214.49" rx="0.82" ry="1.05"/><ellipse cx="103.79" cy="226.64" rx="0.82" ry="1.05"/><ellipse cx="93.39" cy="236.04" rx="0.82" ry="1.05"/><ellipse cx="84.8" cy="244.3" rx="0.82" ry="1.05"/><ellipse cx="77.7" cy="250.36" rx="0.82" ry="1.05"/><ellipse cx="71.84" cy="255.32" rx="0.82" ry="1.05"/><ellipse cx="66.99" cy="259.37" rx="0.82" ry="1.05"/><ellipse cx="62.98" cy="262.32" rx="0.82" ry="1.05"/><ellipse cx="59.67" cy="264.78" rx="0.82" ry="1.05"/><ellipse cx="56.93" cy="266.65" rx="0.82" ry="1.05"/><ellipse cx="54.67" cy="268.11" rx="0.82" ry="1.05"/><ellipse cx="52.8" cy="269.25" rx="0.82" ry="1.05"/><ellipse cx="51.26" cy="270.14" rx="0.82" ry="1.05"/><ellipse cx="49.98" cy="270.83" rx="0.82" ry="1.05"/><ellipse cx="48.92" cy="271.37" rx="0.82" ry="1.05"/><ellipse cx="48.05" cy="271.8" rx="0.82" ry="1.05"/><ellipse cx="47.33" cy="272.13" rx="0.82" ry="1.05"/><ellipse cx="46.74" cy="272.38" rx="0.82" ry="1.05"/><ellipse cx="46.24" cy="272.59" rx="0.82" ry="1.05"/><ellipse cx="45.84" cy="272.74" rx="0.82" ry="1.05"/></g>
<path d="M199.23 192.3L172.27 208.66L149.99 218.3L131.58 229.24L116.36 237.01L103.79 243.82L93.39 249.55L84.8 254.46L77.7 258.23L71.84 261.31L66.99 263.95L62.98 265.91L59.67 267.48L56.93 268.71L54.67 269.69L52.8 270.45L51.26 271.06L49.98 271.53L48.92 271.91L48.05 272.2L47.33 272.43L46.74 272.62L46.24 272.76L45.84 272.88" stroke="#1CF010" stroke-width="1.6" fill="none" stroke-linejoin="round" stroke-linecap="round"/>
<path d="M199.5 187.44V197.16M198.55 187.44h1.9M198.55 197.16h1.9M172.5 204.78V212.54M171.55 204.78h1.9M171.55 212.54h1.9M62.98 265.47V266.36M59.67 267.13V267.83M56.93 268.36V269.06M54.67 269.34V270.04M52.8 270.1V270.8M51.26 270.71V271.41M49.98 271.18V271.88M48.92 271.56V272.26M48.05 271.85V272.55M47.33 272.08V272.78M46.74 272.27V272.97M46.24 272.41V273.11M45.84 272.53V273.23" stroke="#2a2a2a" stroke-width="0.55" fill="none"/>
<path d="M149.29 214.75h1.4v7.1h-1.4zM130.88 226.34h1.4v5.79h-1.4zM115.66 234.58h1.4v4.85h-1.4zM103.09 241.8h1.4v4.04h-1.4zM92.69 247.88h1.4v3.35h-1.4zM84.1 253.08h1.4v2.76h-1.4zM77 257.08h1.4v2.31h-1.4zM71.14 260.34h1.4v1.94h-1.4zM66.29 263.14h1.4v1.62h-1.4z" fill="#000" fill-opacity="0.62"/>
<g fill="#000"><ellipse cx="199.23" cy="192.3" rx="0.82" ry="1.05"/><ellipse cx="172.27" cy="208.66" rx="0.82" ry="1.05"/><ellipse cx="149.99" cy="218.3" rx="0.82" ry="1.05"/><ellipse cx="131.58" cy="229.24" rx="0.82" ry="1.05"/><ellipse cx="116.36" cy="237.01" rx="0.82" ry="1.05"/><ellipse cx="103.79" cy="243.82" rx="0.82" ry="1.05"/><ellipse cx="93.39" cy="249.55" rx="0.82" ry="1.05"/><ellipse cx="84.8" cy="254.46" rx="0.82" ry="1.05"/><ellipse cx="77.7" cy="258.23" rx="0.82" ry="1.05"/><ellipse cx="71.84" cy="261.31" rx="0.82" ry="1.05"/><ellipse cx="66.99" cy="263.95" rx="0.82" ry="1.05"/><ellipse cx="62.98" cy="265.91" rx="0.82" ry="1.05"/><ellipse cx="59.67" cy="267.48" rx="0.82" ry="1.05"/><ellipse cx="56.93" cy="268.71" rx="0.82" ry="1.05"/><ellipse cx="54.67" cy="269.69" rx="0.82" ry="1.05"/><ellipse cx="52.8" cy="270.45" rx="0.82" ry="1.05"/><ellipse cx="51.26" cy="271.06" rx="0.82" ry="1.05"/><ellipse cx="49.98" cy="271.53" rx="0.82" ry="1.05"/><ellipse cx="48.92" cy="271.91" rx="0.82" ry="1.05"/><ellipse cx="48.05" cy="272.2" rx="0.82" ry="1.05"/><ellipse cx="47.33" cy="272.43" rx="0.82" ry="1.05"/><ellipse cx="46.74" cy="272.62" rx="0.82" ry="1.05"/><ellipse cx="46.24" cy="272.76" rx="0.82" ry="1.05"/><ellipse cx="45.84" cy="272.88" rx="0.82" ry="1.05"/></g>
<path d="M231.85 232.15L199.23 238.5L172.27 245.19L149.99 248.81L131.58 253.6L116.36 256.61L103.79 259.69L93.39 262.15L84.8 264.28L77.7 265.91L71.84 267.23L66.99 268.38L62.98 269.35L59.67 270.09L56.93 270.7L54.67 271.19L52.8 271.59L51.26 271.91L49.98 272.18L48.92 272.39L48.05 272.56L47.33 272.7L46.74 272.81L46.24 272.91L45.84 272.98" stroke="#1A6CFF" stroke-width="1.6" fill="none" stroke-linejoin="round" stroke-linecap="round"/>
<path d="M77.7 265.43V266.39M71.84 266.83V267.62M66.99 268.03V268.73M62.98 269V269.7M59.67 269.74V270.44M56.93 270.35V271.05M54.67 270.84V271.54M52.8 271.24V271.94M51.26 271.56V272.26M49.98 271.83V272.53M48.92 272.04V272.74M48.05 272.21V272.91M47.33 272.35V273.05M46.74 272.46V273.16M46.24 272.56V273.26M45.84 272.63V273.33" stroke="#2a2a2a" stroke-width="0.55" fill="none"/>
<path d="M231.15 229.23h1.4v5.85h-1.4zM198.53 235.99h1.4v5.02h-1.4zM171.57 243.12h1.4v4.15h-1.4zM149.29 246.96h1.4v3.68h-1.4zM130.88 252.07h1.4v3.06h-1.4zM115.66 255.28h1.4v2.67h-1.4zM103.09 258.56h1.4v2.27h-1.4zM92.69 261.18h1.4v1.95h-1.4zM84.1 263.44h1.4v1.67h-1.4z" fill="#000" fill-opacity="0.62"/>
<g fill="#000"><ellipse cx="231.85" cy="232.15" rx="0.82" ry="1.05"/><ellipse cx="199.23" cy="238.5" rx="0.82" ry="1.05"/><ellipse cx="172.27" cy="245.19" rx="0.82" ry="1.05"/><ellipse cx="149.99" cy="248.81" rx="0.82" ry="1.05"/><ellipse cx="131.58" cy="253.6" rx="0.82" ry="1.05"/><ellipse cx="116.36" cy="256.61" rx="0.82" ry="1.05"/><ellipse cx="103.79" cy="259.69" rx="0.82" ry="1.05"/><ellipse cx="93.39" cy="262.15" rx="0.82" ry="1.05"/><ellipse cx="84.8" cy="264.28" rx="0.82" ry="1.05"/><ellipse cx="77.7" cy="265.91" rx="0.82" ry="1.05"/><ellipse cx="71.84" cy="267.23" rx="0.82" ry="1.05"/><ellipse cx="66.99" cy="268.38" rx="0.82" ry="1.05"/><ellipse cx="62.98" cy="269.35" rx="0.82" ry="1.05"/><ellipse cx="59.67" cy="270.09" rx="0.82" ry="1.05"/><ellipse cx="56.93" cy="270.7" rx="0.82" ry="1.05"/><ellipse cx="54.67" cy="271.19" rx="0.82" ry="1.05"/><ellipse cx="52.8" cy="271.59" rx="0.82" ry="1.05"/><ellipse cx="51.26" cy="271.91" rx="0.82" ry="1.05"/><ellipse cx="49.98" cy="272.18" rx="0.82" ry="1.05"/><ellipse cx="48.92" cy="272.39" rx="0.82" ry="1.05"/><ellipse cx="48.05" cy="272.56" rx="0.82" ry="1.05"/><ellipse cx="47.33" cy="272.7" rx="0.82" ry="1.05"/><ellipse cx="46.74" cy="272.81" rx="0.82" ry="1.05"/><ellipse cx="46.24" cy="272.91" rx="0.82" ry="1.05"/><ellipse cx="45.84" cy="272.98" rx="0.82" ry="1.05"/></g>
<path d="M282.5 273.5v-1.5M282.5 151.5v1.5M291.5 273.5v-1.5M291.5 151.5v1.5M300.5 273.5v-1.5M300.5 151.5v1.5M309.5 273.5v-2.5M309.5 151.5v2.5M318.5 273.5v-1.5M318.5 151.5v1.5M327.5 273.5v-1.5M327.5 151.5v1.5M336.5 273.5v-1.5M336.5 151.5v1.5M345.5 273.5v-2.5M345.5 151.5v2.5M354.5 273.5v-1.5M354.5 151.5v1.5M363.5 273.5v-1.5M363.5 151.5v1.5M372.5 273.5v-1.5M372.5 151.5v1.5M381.5 273.5v-2.5M381.5 151.5v2.5M390.5 273.5v-1.5M390.5 151.5v1.5M399.5 273.5v-1.5M399.5 151.5v1.5M408.5 273.5v-1.5M408.5 151.5v1.5M417.5 273.5v-2.5M417.5 151.5v2.5M426.5 273.5v-1.5M426.5 151.5v1.5M435.5 273.5v-1.5M435.5 151.5v1.5M444.5 273.5v-1.5M444.5 151.5v1.5M453.5 273.5v-2.5M453.5 151.5v2.5M462.5 273.5v-1.5M462.5 151.5v1.5M273.5 268.69h1.5M470.5 268.69h-1.5M273.5 263.84h1.5M470.5 263.84h-1.5M273.5 258.99h1.5M470.5 258.99h-1.5M273.5 254.13h2.5M470.5 254.13h-2.5M273.5 249.28h1.5M470.5 249.28h-1.5M273.5 244.42h1.5M470.5 244.42h-1.5M273.5 239.56h1.5M470.5 239.56h-1.5M273.5 234.71h2.5M470.5 234.71h-2.5M273.5 229.86h1.5M470.5 229.86h-1.5M273.5 225h1.5M470.5 225h-1.5M273.5 220.15h1.5M470.5 220.15h-1.5M273.5 215.29h2.5M470.5 215.29h-2.5M273.5 210.44h1.5M470.5 210.44h-1.5M273.5 205.58h1.5M470.5 205.58h-1.5M273.5 200.73h1.5M470.5 200.73h-1.5M273.5 195.87h2.5M470.5 195.87h-2.5M273.5 191.01h1.5M470.5 191.01h-1.5M273.5 186.16h1.5M470.5 186.16h-1.5M273.5 181.31h1.5M470.5 181.31h-1.5M273.5 176.45h2.5M470.5 176.45h-2.5M273.5 171.59h1.5M470.5 171.59h-1.5M273.5 166.74h1.5M470.5 166.74h-1.5M273.5 161.88h1.5M470.5 161.88h-1.5M273.5 157.03h2.5M470.5 157.03h-2.5M273.5 152.18h1.5M470.5 152.18h-1.5" stroke="#909090" stroke-width="0.5" fill="none"/>
<path d="M273.5 273.5V151.5H470.5" fill="none" stroke="#9c9c9c" stroke-width="0.56"/>
<path d="M273.5 273.5H470.5V151.5" fill="none" stroke="#9c9c9c" stroke-width="0.48"/>
<text transform="translate(309.50 282.70)" fill="#222" stroke="#222" stroke-width="0.1" xml:space="preserve"><tspan x="-3.15" y="0.00" font-family='"Liberation Serif", serif' font-size="6.3">20</tspan></text>
<text transform="translate(345.50 282.70)" fill="#222" stroke="#222" stroke-width="0.1" xml:space="preserve"><tspan x="-3.15" y="0.00" font-family='"Liberation Serif", serif' font-size="6.3">40</tspan></text>
<text transform="translate(381.50 282.70)" fill="#222" stroke="#222" stroke-width="0.1" xml:space="preserve"><tspan x="-3.15" y="0.00" font-family='"Liberation Serif", serif' font-size="6.3">60</tspan></text>
<text transform="translate(417.50 282.70)" fill="#222" stroke="#222" stroke-width="0.1" xml:space="preserve"><tspan x="-3.15" y="0.00" font-family='"Liberation Serif", serif' font-size="6.3">80</tspan></text>
<text transform="translate(453.50 282.70)" fill="#222" stroke="#222" stroke-width="0.1" xml:space="preserve"><tspan x="-4.72" y="0.00" font-family='"Liberation Serif", serif' font-size="6.3">100</tspan></text>
<text transform="translate(270.00 256.33)" fill="#222" stroke="#222" stroke-width="0.1" xml:space="preserve"><tspan x="-9.45" y="0.00" font-family='"Liberation Serif", serif' font-size="6.3">200</tspan></text>
<text transform="translate(270.00 236.91)" fill="#222" stroke="#222" stroke-width="0.1" xml:space="preserve"><tspan x="-9.45" y="0.00" font-family='"Liberation Serif", serif' font-size="6.3">400</tspan></text>
<text transform="translate(270.00 217.49)" fill="#222" stroke="#222" stroke-width="0.1" xml:space="preserve"><tspan x="-9.45" y="0.00" font-family='"Liberation Serif", serif' font-size="6.3">600</tspan></text>
<text transform="translate(270.00 198.07)" fill="#222" stroke="#222" stroke-width="0.1" xml:space="preserve"><tspan x="-9.45" y="0.00" font-family='"Liberation Serif", serif' font-size="6.3">800</tspan></text>
<text transform="translate(270.00 178.65)" fill="#222" stroke="#222" stroke-width="0.1" xml:space="preserve"><tspan x="-12.60" y="0.00" font-family='"Liberation Serif", serif' font-size="6.3">1000</tspan></text>
<text transform="translate(270.00 159.23)" fill="#222" stroke="#222" stroke-width="0.1" xml:space="preserve"><tspan x="-12.60" y="0.00" font-family='"Liberation Serif", serif' font-size="6.3">1200</tspan></text>
<text transform="translate(372.00 290.20)" fill="#333" xml:space="preserve"><tspan x="-2.67" y="0.00" font-family='"Liberation Serif", serif' font-size="7.4">V</tspan></text>
<g transform="translate(252.9 212.5) rotate(-90)"><path d="M-12.35 0V-5.00M-11.40 0V-5.00M-12.65 -0.25H-8.95M-12.65 -4.75H-8.95M-11.40 -2.50H-9.75M-9.15 -0.25v-0.9M-9.15 -4.75v0.9" stroke="#222" stroke-width="0.42" fill="none"/></g>
<text transform="translate(252.90 212.50) rotate(-90)" fill="#222" stroke="#222" stroke-width="0.1"><tspan x="-5.85" y="0.00" font-family='"Liberation Sans", sans-serif' font-size="6.3">[</tspan><tspan x="-4.15" y="0.00" font-family='"Liberation Sans", sans-serif' font-size="6.3">r</tspan><tspan x="-1.95" y="-2.90" font-family='"Liberation Sans", sans-serif' font-size="4.3">2</tspan><tspan x="2.25" y="0.00" font-family='"Liberation Sans", sans-serif' font-size="6.3">|</tspan><tspan x="6.20" y="0.00" font-family='"Liberation Sans", sans-serif' font-size="6.3">V</tspan><tspan x="10.95" y="0.00" font-family='"Liberation Sans", sans-serif' font-size="6.3">]</tspan></text>
<path d="M291.1 156.6H309.9" stroke="#FF9A00" stroke-width="1.3" fill="none"/>
<text transform="translate(322.00 158.70)" fill="#2a2a2a" stroke="#2a2a2a" stroke-width="0.12" xml:space="preserve"><tspan x="-7.10" y="0.00" font-family='"Liberation Sans", sans-serif' font-size="5.3">n</tspan><tspan x="-4.15" y="1.10" font-family='"Liberation Sans", sans-serif' font-size="3.7">T</tspan><tspan x="-1.89" y="0.00" font-family='"Liberation Sans", sans-serif' font-size="5.3">=30</tspan></text>
<path d="M291.1 161.5H309.9" stroke="#1CF010" stroke-width="1.3" fill="none"/>
<text transform="translate(322.00 163.60)" fill="#2a2a2a" stroke="#2a2a2a" stroke-width="0.12" xml:space="preserve"><tspan x="-7.10" y="0.00" font-family='"Liberation Sans", sans-serif' font-size="5.3">n</tspan><tspan x="-4.15" y="1.10" font-family='"Liberation Sans", sans-serif' font-size="3.7">T</tspan><tspan x="-1.89" y="0.00" font-family='"Liberation Sans", sans-serif' font-size="5.3">=15</tspan></text>
<path d="M291.1 166.4H309.9" stroke="#1A6CFF" stroke-width="1.3" fill="none"/>
<text transform="translate(322.00 168.50)" fill="#2a2a2a" stroke="#2a2a2a" stroke-width="0.12" xml:space="preserve"><tspan x="-5.63" y="0.00" font-family='"Liberation Sans", sans-serif' font-size="5.3">n</tspan><tspan x="-2.68" y="1.10" font-family='"Liberation Sans", sans-serif' font-size="3.7">T</tspan><tspan x="-0.42" y="0.00" font-family='"Liberation Sans", sans-serif' font-size="5.3">=5</tspan></text>
<text transform="translate(453.10 164.20)" fill="#2a2a2a" stroke="#2a2a2a" stroke-width="0.12" xml:space="preserve"><tspan x="-8.15" y="0.00" font-family='"Liberation Sans", sans-serif' font-size="6.4" font-style="italic">β</tspan><tspan x="-4.49" y="0.00" font-family='"Liberation Sans", sans-serif' font-size="6.4">=0.5</tspan></text>
<path d="M402.59 157.9L380.19 176.2L361.67 191.89L346.37 205.8L333.72 217.72L323.27 227.14L314.63 234.32L307.49 241.41L301.59 246.6L296.72 251.22L292.69 255L289.36 258.21L286.61 260.8L284.33 262.95L282.45 264.74L280.9 266.23L279.61 267.46L278.55 268.49L277.68 269.35L276.95 270.05L276.35 270.64L275.86 271.14L275.45 271.54" stroke="#FF9A00" stroke-width="1.6" fill="none" stroke-linejoin="round" stroke-linecap="round"/>
<path d="M402.5 153.39V162.41M401.55 153.39h1.9M401.55 162.41h1.9M380.5 172.4V179.99M379.55 172.4h1.9M379.55 179.99h1.9M286.61 260.3V261.3M284.33 262.54V263.36M282.45 264.39V265.09M280.9 265.88V266.58M279.61 267.11V267.81M278.55 268.14V268.84M277.68 269V269.7M276.95 269.7V270.4M276.35 270.29V270.99M275.86 270.79V271.49M275.45 271.19V271.89" stroke="#2a2a2a" stroke-width="0.55" fill="none"/>
<path d="M360.97 188.45h1.4v6.87h-1.4zM345.67 202.91h1.4v5.78h-1.4zM333.02 215.29h1.4v4.85h-1.4zM322.57 225.08h1.4v4.12h-1.4zM313.93 232.54h1.4v3.56h-1.4zM306.79 239.91h1.4v3.01h-1.4zM300.89 245.3h1.4v2.6h-1.4zM296.02 250.1h1.4v2.24h-1.4zM291.99 254.03h1.4v1.95h-1.4zM288.66 257.36h1.4v1.7h-1.4z" fill="#000" fill-opacity="0.62"/>
<g fill="#000"><ellipse cx="402.59" cy="157.9" rx="0.82" ry="1.05"/><ellipse cx="380.19" cy="176.2" rx="0.82" ry="1.05"/><ellipse cx="361.67" cy="191.89" rx="0.82" ry="1.05"/><ellipse cx="346.37" cy="205.8" rx="0.82" ry="1.05"/><ellipse cx="333.72" cy="217.72" rx="0.82" ry="1.05"/><ellipse cx="323.27" cy="227.14" rx="0.82" ry="1.05"/><ellipse cx="314.63" cy="234.32" rx="0.82" ry="1.05"/><ellipse cx="307.49" cy="241.41" rx="0.82" ry="1.05"/><ellipse cx="301.59" cy="246.6" rx="0.82" ry="1.05"/><ellipse cx="296.72" cy="251.22" rx="0.82" ry="1.05"/><ellipse cx="292.69" cy="255" rx="0.82" ry="1.05"/><ellipse cx="289.36" cy="258.21" rx="0.82" ry="1.05"/><ellipse cx="286.61" cy="260.8" rx="0.82" ry="1.05"/><ellipse cx="284.33" cy="262.95" rx="0.82" ry="1.05"/><ellipse cx="282.45" cy="264.74" rx="0.82" ry="1.05"/><ellipse cx="280.9" cy="266.23" rx="0.82" ry="1.05"/><ellipse cx="279.61" cy="267.46" rx="0.82" ry="1.05"/><ellipse cx="278.55" cy="268.49" rx="0.82" ry="1.05"/><ellipse cx="277.68" cy="269.35" rx="0.82" ry="1.05"/><ellipse cx="276.95" cy="270.05" rx="0.82" ry="1.05"/><ellipse cx="276.35" cy="270.64" rx="0.82" ry="1.05"/><ellipse cx="275.86" cy="271.14" rx="0.82" ry="1.05"/><ellipse cx="275.45" cy="271.54" rx="0.82" ry="1.05"/></g>
<path d="M429.7 209.08L402.59 218.79L380.19 227.72L361.67 233.3L346.37 239.7L333.72 245L323.27 249.5L314.63 253.3L307.49 256.61L301.59 259.4L296.72 261.8L292.69 263.8L289.36 265.42L286.61 266.76L284.33 267.89L282.45 268.83L280.9 269.61L279.61 270.26L278.55 270.81L277.68 271.26L276.95 271.64L276.35 271.96L275.86 272.22L275.45 272.44" stroke="#1CF010" stroke-width="1.6" fill="none" stroke-linejoin="round" stroke-linecap="round"/>
<path d="M292.69 263.38V264.22M289.36 265.07V265.77M286.61 266.41V267.11M284.33 267.54V268.24M282.45 268.48V269.18M280.9 269.26V269.96M279.61 269.91V270.61M278.55 270.46V271.16M277.68 270.91V271.61M276.95 271.29V271.99M276.35 271.61V272.31M275.86 271.87V272.57M275.45 272.09V272.79" stroke="#2a2a2a" stroke-width="0.55" fill="none"/>
<path d="M429 206.05h1.4v6.04h-1.4zM401.89 216.18h1.4v5.21h-1.4zM379.49 225.5h1.4v4.44h-1.4zM360.97 231.32h1.4v3.96h-1.4zM345.67 238h1.4v3.41h-1.4zM333.02 243.53h1.4v2.96h-1.4zM322.57 248.21h1.4v2.57h-1.4zM313.93 252.18h1.4v2.24h-1.4zM306.79 255.63h1.4v1.96h-1.4zM300.89 258.54h1.4v1.72h-1.4zM296.02 261.05h1.4v1.51h-1.4z" fill="#000" fill-opacity="0.62"/>
<g fill="#000"><ellipse cx="429.7" cy="209.08" rx="0.82" ry="1.05"/><ellipse cx="402.59" cy="218.79" rx="0.82" ry="1.05"/><ellipse cx="380.19" cy="227.72" rx="0.82" ry="1.05"/><ellipse cx="361.67" cy="233.3" rx="0.82" ry="1.05"/><ellipse cx="346.37" cy="239.7" rx="0.82" ry="1.05"/><ellipse cx="333.72" cy="245" rx="0.82" ry="1.05"/><ellipse cx="323.27" cy="249.5" rx="0.82" ry="1.05"/><ellipse cx="314.63" cy="253.3" rx="0.82" ry="1.05"/><ellipse cx="307.49" cy="256.61" rx="0.82" ry="1.05"/><ellipse cx="301.59" cy="259.4" rx="0.82" ry="1.05"/><ellipse cx="296.72" cy="261.8" rx="0.82" ry="1.05"/><ellipse cx="292.69" cy="263.8" rx="0.82" ry="1.05"/><ellipse cx="289.36" cy="265.42" rx="0.82" ry="1.05"/><ellipse cx="286.61" cy="266.76" rx="0.82" ry="1.05"/><ellipse cx="284.33" cy="267.89" rx="0.82" ry="1.05"/><ellipse cx="282.45" cy="268.83" rx="0.82" ry="1.05"/><ellipse cx="280.9" cy="269.61" rx="0.82" ry="1.05"/><ellipse cx="279.61" cy="270.26" rx="0.82" ry="1.05"/><ellipse cx="278.55" cy="270.81" rx="0.82" ry="1.05"/><ellipse cx="277.68" cy="271.26" rx="0.82" ry="1.05"/><ellipse cx="276.95" cy="271.64" rx="0.82" ry="1.05"/><ellipse cx="276.35" cy="271.96" rx="0.82" ry="1.05"/><ellipse cx="275.86" cy="272.22" rx="0.82" ry="1.05"/><ellipse cx="275.45" cy="272.44" rx="0.82" ry="1.05"/></g>
<path d="M462.5 235.1L429.7 239.5L402.59 243.6L380.19 249.4L361.67 252.5L346.37 255.3L333.72 258.21L323.27 261.02L314.63 262.6L307.49 264.3L301.59 265.9L296.72 267.2L292.69 268.21L289.36 269.05L286.61 269.76L284.33 270.36L282.45 270.86L280.9 271.29L279.61 271.64L278.55 271.94L277.68 272.2L276.95 272.41L276.35 272.59L275.86 272.74L275.45 272.87" stroke="#1A6CFF" stroke-width="1.6" fill="none" stroke-linejoin="round" stroke-linecap="round"/>
<path d="M333.72 257.75V258.67M323.27 260.65V261.4M314.63 262.25V262.95M307.49 263.95V264.65M301.59 265.55V266.25M296.72 266.85V267.55M292.69 267.86V268.56M289.36 268.7V269.4M286.61 269.41V270.11M284.33 270.01V270.71M282.45 270.51V271.21M280.9 270.94V271.64M279.61 271.29V271.99M278.55 271.59V272.29M277.68 271.85V272.55M276.95 272.06V272.76M276.35 272.24V272.94M275.86 272.39V273.09M275.45 272.52V273.22" stroke="#2a2a2a" stroke-width="0.55" fill="none"/>
<path d="M461.8 233.69h1.4v2.81h-1.4zM429 238.23h1.4v2.54h-1.4zM401.89 242.46h1.4v2.3h-1.4zM379.49 248.43h1.4v1.95h-1.4zM360.97 251.62h1.4v1.76h-1.4zM345.67 254.5h1.4v1.6h-1.4z" fill="#000" fill-opacity="0.62"/>
<g fill="#000"><ellipse cx="462.5" cy="235.1" rx="0.82" ry="1.05"/><ellipse cx="429.7" cy="239.5" rx="0.82" ry="1.05"/><ellipse cx="402.59" cy="243.6" rx="0.82" ry="1.05"/><ellipse cx="380.19" cy="249.4" rx="0.82" ry="1.05"/><ellipse cx="361.67" cy="252.5" rx="0.82" ry="1.05"/><ellipse cx="346.37" cy="255.3" rx="0.82" ry="1.05"/><ellipse cx="333.72" cy="258.21" rx="0.82" ry="1.05"/><ellipse cx="323.27" cy="261.02" rx="0.82" ry="1.05"/><ellipse cx="314.63" cy="262.6" rx="0.82" ry="1.05"/><ellipse cx="307.49" cy="264.3" rx="0.82" ry="1.05"/><ellipse cx="301.59" cy="265.9" rx="0.82" ry="1.05"/><ellipse cx="296.72" cy="267.2" rx="0.82" ry="1.05"/><ellipse cx="292.69" cy="268.21" rx="0.82" ry="1.05"/><ellipse cx="289.36" cy="269.05" rx="0.82" ry="1.05"/><ellipse cx="286.61" cy="269.76" rx="0.82" ry="1.05"/><ellipse cx="284.33" cy="270.36" rx="0.82" ry="1.05"/><ellipse cx="282.45" cy="270.86" rx="0.82" ry="1.05"/><ellipse cx="280.9" cy="271.29" rx="0.82" ry="1.05"/><ellipse cx="279.61" cy="271.64" rx="0.82" ry="1.05"/><ellipse cx="278.55" cy="271.94" rx="0.82" ry="1.05"/><ellipse cx="277.68" cy="272.2" rx="0.82" ry="1.05"/><ellipse cx="276.95" cy="272.41" rx="0.82" ry="1.05"/><ellipse cx="276.35" cy="272.59" rx="0.82" ry="1.05"/><ellipse cx="275.86" cy="272.74" rx="0.82" ry="1.05"/><ellipse cx="275.45" cy="272.87" rx="0.82" ry="1.05"/></g>
<path d="M54.35 414.9v-1.5M54.35 293.4v1.5M63.3 414.9v-1.5M63.3 293.4v1.5M72.25 414.9v-1.5M72.25 293.4v1.5M81.2 414.9v-2.5M81.2 293.4v2.5M90.15 414.9v-1.5M90.15 293.4v1.5M99.1 414.9v-1.5M99.1 293.4v1.5M108.05 414.9v-1.5M108.05 293.4v1.5M117 414.9v-2.5M117 293.4v2.5M125.95 414.9v-1.5M125.95 293.4v1.5M134.9 414.9v-1.5M134.9 293.4v1.5M143.85 414.9v-1.5M143.85 293.4v1.5M152.8 414.9v-2.5M152.8 293.4v2.5M161.75 414.9v-1.5M161.75 293.4v1.5M170.7 414.9v-1.5M170.7 293.4v1.5M179.65 414.9v-1.5M179.65 293.4v1.5M188.6 414.9v-2.5M188.6 293.4v2.5M197.55 414.9v-1.5M197.55 293.4v1.5M206.5 414.9v-1.5M206.5 293.4v1.5M215.45 414.9v-1.5M215.45 293.4v1.5M224.4 414.9v-2.5M224.4 293.4v2.5M233.35 414.9v-1.5M233.35 293.4v1.5M45.5 410.89h1.5M242.5 410.89h-1.5M45.5 406.83h1.5M242.5 406.83h-1.5M45.5 402.77h1.5M242.5 402.77h-1.5M45.5 398.71h2.5M242.5 398.71h-2.5M45.5 394.65h1.5M242.5 394.65h-1.5M45.5 390.59h1.5M242.5 390.59h-1.5M45.5 386.53h1.5M242.5 386.53h-1.5M45.5 382.47h2.5M242.5 382.47h-2.5M45.5 378.41h1.5M242.5 378.41h-1.5M45.5 374.35h1.5M242.5 374.35h-1.5M45.5 370.29h1.5M242.5 370.29h-1.5M45.5 366.23h2.5M242.5 366.23h-2.5M45.5 362.17h1.5M242.5 362.17h-1.5M45.5 358.11h1.5M242.5 358.11h-1.5M45.5 354.05h1.5M242.5 354.05h-1.5M45.5 349.99h2.5M242.5 349.99h-2.5M45.5 345.93h1.5M242.5 345.93h-1.5M45.5 341.87h1.5M242.5 341.87h-1.5M45.5 337.81h1.5M242.5 337.81h-1.5M45.5 333.75h2.5M242.5 333.75h-2.5M45.5 329.69h1.5M242.5 329.69h-1.5M45.5 325.63h1.5M242.5 325.63h-1.5M45.5 321.57h1.5M242.5 321.57h-1.5M45.5 317.51h2.5M242.5 317.51h-2.5M45.5 313.45h1.5M242.5 313.45h-1.5M45.5 309.39h1.5M242.5 309.39h-1.5M45.5 305.33h1.5M242.5 305.33h-1.5M45.5 301.27h2.5M242.5 301.27h-2.5M45.5 297.21h1.5M242.5 297.21h-1.5" stroke="#909090" stroke-width="0.5" fill="none"/>
<path d="M45.5 414.9V293.4H242.5" fill="none" stroke="#9c9c9c" stroke-width="0.56"/>
<path d="M45.5 414.9H242.5V293.4" fill="none" stroke="#9c9c9c" stroke-width="0.48"/>
<text transform="translate(81.20 424.10)" fill="#222" stroke="#222" stroke-width="0.1" xml:space="preserve"><tspan x="-3.15" y="0.00" font-family='"Liberation Serif", serif' font-size="6.3">20</tspan></text>
<text transform="translate(117.00 424.10)" fill="#222" stroke="#222" stroke-width="0.1" xml:space="preserve"><tspan x="-3.15" y="0.00" font-family='"Liberation Serif", serif' font-size="6.3">40</tspan></text>
<text transform="translate(152.80 424.10)" fill="#222" stroke="#222" stroke-width="0.1" xml:space="preserve"><tspan x="-3.15" y="0.00" font-family='"Liberation Serif", serif' font-size="6.3">60</tspan></text>
<text transform="translate(188.60 424.10)" fill="#222" stroke="#222" stroke-width="0.1" xml:space="preserve"><tspan x="-3.15" y="0.00" font-family='"Liberation Serif", serif' font-size="6.3">80</tspan></text>
<text transform="translate(224.40 424.10)" fill="#222" stroke="#222" stroke-width="0.1" xml:space="preserve"><tspan x="-4.72" y="0.00" font-family='"Liberation Serif", serif' font-size="6.3">100</tspan></text>
<text transform="translate(42.00 400.91)" fill="#222" stroke="#222" stroke-width="0.1" xml:space="preserve"><tspan x="-9.45" y="0.00" font-family='"Liberation Serif", serif' font-size="6.3">200</tspan></text>
<text transform="translate(42.00 384.67)" fill="#222" stroke="#222" stroke-width="0.1" xml:space="preserve"><tspan x="-9.45" y="0.00" font-family='"Liberation Serif", serif' font-size="6.3">400</tspan></text>
<text transform="translate(42.00 368.43)" fill="#222" stroke="#222" stroke-width="0.1" xml:space="preserve"><tspan x="-9.45" y="0.00" font-family='"Liberation Serif", serif' font-size="6.3">600</tspan></text>
<text transform="translate(42.00 352.19)" fill="#222" stroke="#222" stroke-width="0.1" xml:space="preserve"><tspan x="-9.45" y="0.00" font-family='"Liberation Serif", serif' font-size="6.3">800</tspan></text>
<text transform="translate(42.00 335.95)" fill="#222" stroke="#222" stroke-width="0.1" xml:space="preserve"><tspan x="-12.60" y="0.00" font-family='"Liberation Serif", serif' font-size="6.3">1000</tspan></text>
<text transform="translate(42.00 319.71)" fill="#222" stroke="#222" stroke-width="0.1" xml:space="preserve"><tspan x="-12.60" y="0.00" font-family='"Liberation Serif", serif' font-size="6.3">1200</tspan></text>
<text transform="translate(42.00 303.47)" fill="#222" stroke="#222" stroke-width="0.1" xml:space="preserve"><tspan x="-12.60" y="0.00" font-family='"Liberation Serif", serif' font-size="6.3">1400</tspan></text>
<text transform="translate(144.00 431.60)" fill="#333" xml:space="preserve"><tspan x="-2.67" y="0.00" font-family='"Liberation Serif", serif' font-size="7.4">V</tspan></text>
<g transform="translate(24.2 354.15) rotate(-90)"><path d="M-12.35 0V-5.00M-11.40 0V-5.00M-12.65 -0.25H-8.95M-12.65 -4.75H-8.95M-11.40 -2.50H-9.75M-9.15 -0.25v-0.9M-9.15 -4.75v0.9" stroke="#222" stroke-width="0.42" fill="none"/></g>
<text transform="translate(24.20 354.15) rotate(-90)" fill="#222" stroke="#222" stroke-width="0.1"><tspan x="-5.85" y="0.00" font-family='"Liberation Sans", sans-serif' font-size="6.3">[</tspan><tspan x="-4.15" y="0.00" font-family='"Liberation Sans", sans-serif' font-size="6.3">r</tspan><tspan x="-1.95" y="-2.90" font-family='"Liberation Sans", sans-serif' font-size="4.3">2</tspan><tspan x="2.25" y="0.00" font-family='"Liberation Sans", sans-serif' font-size="6.3">|</tspan><tspan x="6.20" y="0.00" font-family='"Liberation Sans", sans-serif' font-size="6.3">V</tspan><tspan x="10.95" y="0.00" font-family='"Liberation Sans", sans-serif' font-size="6.3">]</tspan></text>
<path d="M63 301.3H81.7" stroke="#FF9A00" stroke-width="1.3" fill="none"/>
<text transform="translate(93.70 303.40)" fill="#2a2a2a" stroke="#2a2a2a" stroke-width="0.12" xml:space="preserve"><tspan x="-7.22" y="0.00" font-family='"Liberation Sans", sans-serif' font-size="5.3">30min</tspan></text>
<path d="M63 306.9H81.7" stroke="#1CF010" stroke-width="1.3" fill="none"/>
<text transform="translate(93.70 309.00)" fill="#2a2a2a" stroke="#2a2a2a" stroke-width="0.12" xml:space="preserve"><tspan x="-7.22" y="0.00" font-family='"Liberation Sans", sans-serif' font-size="5.3">15min</tspan></text>
<path d="M63 312.5H81.7" stroke="#1A6CFF" stroke-width="1.3" fill="none"/>
<text transform="translate(93.70 314.60)" fill="#2a2a2a" stroke="#2a2a2a" stroke-width="0.12" xml:space="preserve"><tspan x="-5.74" y="0.00" font-family='"Liberation Sans", sans-serif' font-size="5.3">5min</tspan></text>
<text transform="translate(224.70 305.70)" fill="#2a2a2a" stroke="#2a2a2a" stroke-width="0.12" xml:space="preserve"><tspan x="-8.15" y="0.00" font-family='"Liberation Sans", sans-serif' font-size="6.4" font-style="italic">β</tspan><tspan x="-4.49" y="0.00" font-family='"Liberation Sans", sans-serif' font-size="6.4">=0.7</tspan></text>
<path d="M173.77 303.5L151.49 329.28L133.08 350.4L117.86 366.07L105.29 378.57L94.89 387.83L86.3 394.19L79.2 399.6L73.34 403.5L68.49 406.78L64.48 408.92L61.17 410.57L58.43 411.75L56.17 412.61L54.3 413.24L52.76 413.7L51.48 414.04L50.42 414.29L49.55 414.46L48.83 414.6L48.24 414.69L47.74 414.76L47.34 414.81" stroke="#FF9A00" stroke-width="1.6" fill="none" stroke-linejoin="round" stroke-linecap="round"/>
<path d="M173.5 297.93V309.08M172.55 297.93h1.9M172.55 309.08h1.9M151.5 325V333.57M150.55 325h1.9M150.55 333.57h1.9M68.49 406.37V407.19M64.48 408.57V409.27M61.17 410.22V410.92M58.43 411.4V412.1M56.17 412.26V412.96M54.3 412.89V413.59M52.76 413.35V414.05M51.48 413.69V414.39M50.42 413.94V414.64M49.55 414.11V414.81M48.83 414.25V414.95M48.24 414.34V415.04M47.74 414.41V415.11M47.34 414.46V415.16" stroke="#2a2a2a" stroke-width="0.55" fill="none"/>
<path d="M132.38 346.92h1.4v6.96h-1.4zM117.16 363.37h1.4v5.39h-1.4zM104.59 376.5h1.4v4.14h-1.4zM94.19 386.22h1.4v3.21h-1.4zM85.6 392.9h1.4v2.58h-1.4zM78.5 398.59h1.4v2.03h-1.4zM72.64 402.68h1.4v1.64h-1.4z" fill="#000" fill-opacity="0.62"/>
<g fill="#000"><ellipse cx="173.77" cy="303.5" rx="0.82" ry="1.05"/><ellipse cx="151.49" cy="329.28" rx="0.82" ry="1.05"/><ellipse cx="133.08" cy="350.4" rx="0.82" ry="1.05"/><ellipse cx="117.86" cy="366.07" rx="0.82" ry="1.05"/><ellipse cx="105.29" cy="378.57" rx="0.82" ry="1.05"/><ellipse cx="94.89" cy="387.83" rx="0.82" ry="1.05"/><ellipse cx="86.3" cy="394.19" rx="0.82" ry="1.05"/><ellipse cx="79.2" cy="399.6" rx="0.82" ry="1.05"/><ellipse cx="73.34" cy="403.5" rx="0.82" ry="1.05"/><ellipse cx="68.49" cy="406.78" rx="0.82" ry="1.05"/><ellipse cx="64.48" cy="408.92" rx="0.82" ry="1.05"/><ellipse cx="61.17" cy="410.57" rx="0.82" ry="1.05"/><ellipse cx="58.43" cy="411.75" rx="0.82" ry="1.05"/><ellipse cx="56.17" cy="412.61" rx="0.82" ry="1.05"/><ellipse cx="54.3" cy="413.24" rx="0.82" ry="1.05"/><ellipse cx="52.76" cy="413.7" rx="0.82" ry="1.05"/><ellipse cx="51.48" cy="414.04" rx="0.82" ry="1.05"/><ellipse cx="50.42" cy="414.29" rx="0.82" ry="1.05"/><ellipse cx="49.55" cy="414.46" rx="0.82" ry="1.05"/><ellipse cx="48.83" cy="414.6" rx="0.82" ry="1.05"/><ellipse cx="48.24" cy="414.69" rx="0.82" ry="1.05"/><ellipse cx="47.74" cy="414.76" rx="0.82" ry="1.05"/><ellipse cx="47.34" cy="414.81" rx="0.82" ry="1.05"/></g>
<path d="M200.73 307.2L173.77 333.7L151.49 350.8L133.08 366.72L117.86 378.09L105.29 387.18L94.89 393.69L86.3 398.76L79.2 402.69L73.34 405.97L68.49 408.26L64.48 409.9L61.17 411.16L58.43 412.1L56.17 412.81L54.3 413.34L52.76 413.74L51.48 414.04L50.42 414.27L49.55 414.44L48.83 414.56L48.24 414.66L47.74 414.73L47.34 414.79" stroke="#1CF010" stroke-width="1.6" fill="none" stroke-linejoin="round" stroke-linecap="round"/>
<path d="M200.5 302.35V312.05M199.55 302.35h1.9M199.55 312.05h1.9M173.5 330.05V337.36M172.55 330.05h1.9M172.55 337.36h1.9M73.34 405.57V406.37M68.49 407.91V408.61M64.48 409.55V410.25M61.17 410.81V411.51M58.43 411.75V412.45M56.17 412.46V413.16M54.3 412.99V413.69M52.76 413.39V414.09M51.48 413.69V414.39M50.42 413.92V414.62M49.55 414.09V414.79M48.83 414.21V414.91M48.24 414.31V415.01M47.74 414.38V415.08M47.34 414.44V415.14" stroke="#2a2a2a" stroke-width="0.55" fill="none"/>
<path d="M150.79 347.67h1.4v6.27h-1.4zM132.38 364.3h1.4v4.84h-1.4zM117.16 376.18h1.4v3.82h-1.4zM104.59 385.68h1.4v3h-1.4zM94.19 392.49h1.4v2.41h-1.4zM85.6 397.78h1.4v1.96h-1.4zM78.5 401.89h1.4v1.6h-1.4z" fill="#000" fill-opacity="0.62"/>
<g fill="#000"><ellipse cx="200.73" cy="307.2" rx="0.82" ry="1.05"/><ellipse cx="173.77" cy="333.7" rx="0.82" ry="1.05"/><ellipse cx="151.49" cy="350.8" rx="0.82" ry="1.05"/><ellipse cx="133.08" cy="366.72" rx="0.82" ry="1.05"/><ellipse cx="117.86" cy="378.09" rx="0.82" ry="1.05"/><ellipse cx="105.29" cy="387.18" rx="0.82" ry="1.05"/><ellipse cx="94.89" cy="393.69" rx="0.82" ry="1.05"/><ellipse cx="86.3" cy="398.76" rx="0.82" ry="1.05"/><ellipse cx="79.2" cy="402.69" rx="0.82" ry="1.05"/><ellipse cx="73.34" cy="405.97" rx="0.82" ry="1.05"/><ellipse cx="68.49" cy="408.26" rx="0.82" ry="1.05"/><ellipse cx="64.48" cy="409.9" rx="0.82" ry="1.05"/><ellipse cx="61.17" cy="411.16" rx="0.82" ry="1.05"/><ellipse cx="58.43" cy="412.1" rx="0.82" ry="1.05"/><ellipse cx="56.17" cy="412.81" rx="0.82" ry="1.05"/><ellipse cx="54.3" cy="413.34" rx="0.82" ry="1.05"/><ellipse cx="52.76" cy="413.74" rx="0.82" ry="1.05"/><ellipse cx="51.48" cy="414.04" rx="0.82" ry="1.05"/><ellipse cx="50.42" cy="414.27" rx="0.82" ry="1.05"/><ellipse cx="49.55" cy="414.44" rx="0.82" ry="1.05"/><ellipse cx="48.83" cy="414.56" rx="0.82" ry="1.05"/><ellipse cx="48.24" cy="414.66" rx="0.82" ry="1.05"/><ellipse cx="47.74" cy="414.73" rx="0.82" ry="1.05"/><ellipse cx="47.34" cy="414.79" rx="0.82" ry="1.05"/></g>
<path d="M233.35 327.5L200.73 346.42L173.77 363.39L151.49 374.03L133.08 383.85L117.86 390.91L105.29 396.96L94.89 400.74L86.3 404.33L79.2 406.94L73.34 408.92L68.49 410.57L64.48 411.7L61.17 412.51L58.43 413.12L56.17 413.57L54.3 413.92L52.76 414.17L51.48 414.37L50.42 414.51L49.55 414.62L48.83 414.7L48.24 414.76L47.74 414.81L47.34 414.84" stroke="#1A6CFF" stroke-width="1.6" fill="none" stroke-linejoin="round" stroke-linecap="round"/>
<path d="M233.5 323.56V331.43M232.55 323.56h1.9M232.55 331.43h1.9M86.3 403.85V404.81M79.2 406.58V407.3M73.34 408.57V409.27M68.49 410.22V410.92M64.48 411.35V412.05M61.17 412.16V412.86M58.43 412.77V413.47M56.17 413.22V413.92M54.3 413.57V414.27M52.76 413.82V414.52M51.48 414.02V414.72M50.42 414.16V414.86M49.55 414.27V414.97M48.83 414.35V415.05M48.24 414.41V415.11M47.74 414.46V415.16M47.34 414.49V415.19" stroke="#2a2a2a" stroke-width="0.55" fill="none"/>
<path d="M200.03 343.08h1.4v6.67h-1.4zM173.07 360.82h1.4v5.14h-1.4zM150.79 371.93h1.4v4.18h-1.4zM132.38 382.2h1.4v3.3h-1.4zM117.16 389.58h1.4v2.66h-1.4zM104.59 395.9h1.4v2.12h-1.4zM94.19 399.85h1.4v1.78h-1.4z" fill="#000" fill-opacity="0.62"/>
<g fill="#000"><ellipse cx="233.35" cy="327.5" rx="0.82" ry="1.05"/><ellipse cx="200.73" cy="346.42" rx="0.82" ry="1.05"/><ellipse cx="173.77" cy="363.39" rx="0.82" ry="1.05"/><ellipse cx="151.49" cy="374.03" rx="0.82" ry="1.05"/><ellipse cx="133.08" cy="383.85" rx="0.82" ry="1.05"/><ellipse cx="117.86" cy="390.91" rx="0.82" ry="1.05"/><ellipse cx="105.29" cy="396.96" rx="0.82" ry="1.05"/><ellipse cx="94.89" cy="400.74" rx="0.82" ry="1.05"/><ellipse cx="86.3" cy="404.33" rx="0.82" ry="1.05"/><ellipse cx="79.2" cy="406.94" rx="0.82" ry="1.05"/><ellipse cx="73.34" cy="408.92" rx="0.82" ry="1.05"/><ellipse cx="68.49" cy="410.57" rx="0.82" ry="1.05"/><ellipse cx="64.48" cy="411.7" rx="0.82" ry="1.05"/><ellipse cx="61.17" cy="412.51" rx="0.82" ry="1.05"/><ellipse cx="58.43" cy="413.12" rx="0.82" ry="1.05"/><ellipse cx="56.17" cy="413.57" rx="0.82" ry="1.05"/><ellipse cx="54.3" cy="413.92" rx="0.82" ry="1.05"/><ellipse cx="52.76" cy="414.17" rx="0.82" ry="1.05"/><ellipse cx="51.48" cy="414.37" rx="0.82" ry="1.05"/><ellipse cx="50.42" cy="414.51" rx="0.82" ry="1.05"/><ellipse cx="49.55" cy="414.62" rx="0.82" ry="1.05"/><ellipse cx="48.83" cy="414.7" rx="0.82" ry="1.05"/><ellipse cx="48.24" cy="414.76" rx="0.82" ry="1.05"/><ellipse cx="47.74" cy="414.81" rx="0.82" ry="1.05"/><ellipse cx="47.34" cy="414.84" rx="0.82" ry="1.05"/></g>
<path d="M274.9 414.8v-2.5M274.9 294.5v2.5M283.76 414.8v-1.5M283.76 294.5v1.5M292.63 414.8v-1.5M292.63 294.5v1.5M301.5 414.8v-1.5M301.5 294.5v1.5M310.36 414.8v-2.5M310.36 294.5v2.5M319.22 414.8v-1.5M319.22 294.5v1.5M328.09 414.8v-1.5M328.09 294.5v1.5M336.95 414.8v-1.5M336.95 294.5v1.5M345.82 414.8v-2.5M345.82 294.5v2.5M354.68 414.8v-1.5M354.68 294.5v1.5M363.55 414.8v-1.5M363.55 294.5v1.5M372.41 414.8v-1.5M372.41 294.5v1.5M381.28 414.8v-2.5M381.28 294.5v2.5M390.14 414.8v-1.5M390.14 294.5v1.5M399.01 414.8v-1.5M399.01 294.5v1.5M407.88 414.8v-1.5M407.88 294.5v1.5M416.74 414.8v-2.5M416.74 294.5v2.5M425.6 414.8v-1.5M425.6 294.5v1.5M434.47 414.8v-1.5M434.47 294.5v1.5M443.33 414.8v-1.5M443.33 294.5v1.5M452.2 414.8v-2.5M452.2 294.5v2.5M461.06 414.8v-1.5M461.06 294.5v1.5M274.5 409.1h1.5M469.5 409.1h-1.5M274.5 403.2h1.5M469.5 403.2h-1.5M274.5 397.3h1.5M469.5 397.3h-1.5M274.5 391.4h1.5M469.5 391.4h-1.5M274.5 385.5h2.5M469.5 385.5h-2.5M274.5 379.6h1.5M469.5 379.6h-1.5M274.5 373.7h1.5M469.5 373.7h-1.5M274.5 367.8h1.5M469.5 367.8h-1.5M274.5 361.9h1.5M469.5 361.9h-1.5M274.5 356h2.5M469.5 356h-2.5M274.5 350.1h1.5M469.5 350.1h-1.5M274.5 344.2h1.5M469.5 344.2h-1.5M274.5 338.3h1.5M469.5 338.3h-1.5M274.5 332.4h1.5M469.5 332.4h-1.5M274.5 326.5h2.5M469.5 326.5h-2.5M274.5 320.6h1.5M469.5 320.6h-1.5M274.5 314.7h1.5M469.5 314.7h-1.5M274.5 308.8h1.5M469.5 308.8h-1.5M274.5 302.9h1.5M469.5 302.9h-1.5M274.5 297h2.5M469.5 297h-2.5" stroke="#909090" stroke-width="0.5" fill="none"/>
<path d="M274.5 414.8V294.5H469.5" fill="none" stroke="#9c9c9c" stroke-width="0.56"/>
<path d="M274.5 414.8H469.5V294.5" fill="none" stroke="#9c9c9c" stroke-width="0.48"/>
<text transform="translate(310.36 424.00)" fill="#222" stroke="#222" stroke-width="0.1" xml:space="preserve"><tspan x="-3.15" y="0.00" font-family='"Liberation Serif", serif' font-size="6.3">20</tspan></text>
<text transform="translate(345.82 424.00)" fill="#222" stroke="#222" stroke-width="0.1" xml:space="preserve"><tspan x="-3.15" y="0.00" font-family='"Liberation Serif", serif' font-size="6.3">40</tspan></text>
<text transform="translate(381.28 424.00)" fill="#222" stroke="#222" stroke-width="0.1" xml:space="preserve"><tspan x="-3.15" y="0.00" font-family='"Liberation Serif", serif' font-size="6.3">60</tspan></text>
<text transform="translate(416.74 424.00)" fill="#222" stroke="#222" stroke-width="0.1" xml:space="preserve"><tspan x="-3.15" y="0.00" font-family='"Liberation Serif", serif' font-size="6.3">80</tspan></text>
<text transform="translate(452.20 424.00)" fill="#222" stroke="#222" stroke-width="0.1" xml:space="preserve"><tspan x="-4.72" y="0.00" font-family='"Liberation Serif", serif' font-size="6.3">100</tspan></text>
<text transform="translate(271.00 387.70)" fill="#222" stroke="#222" stroke-width="0.1" xml:space="preserve"><tspan x="-9.45" y="0.00" font-family='"Liberation Serif", serif' font-size="6.3">500</tspan></text>
<text transform="translate(271.00 358.20)" fill="#222" stroke="#222" stroke-width="0.1" xml:space="preserve"><tspan x="-12.60" y="0.00" font-family='"Liberation Serif", serif' font-size="6.3">1000</tspan></text>
<text transform="translate(271.00 328.70)" fill="#222" stroke="#222" stroke-width="0.1" xml:space="preserve"><tspan x="-12.60" y="0.00" font-family='"Liberation Serif", serif' font-size="6.3">1500</tspan></text>
<text transform="translate(271.00 299.20)" fill="#222" stroke="#222" stroke-width="0.1" xml:space="preserve"><tspan x="-12.60" y="0.00" font-family='"Liberation Serif", serif' font-size="6.3">2000</tspan></text>
<text transform="translate(372.00 431.50)" fill="#333" xml:space="preserve"><tspan x="-2.67" y="0.00" font-family='"Liberation Serif", serif' font-size="7.4">V</tspan></text>
<g transform="translate(253.7 354.65) rotate(-90)"><path d="M-12.35 0V-5.00M-11.40 0V-5.00M-12.65 -0.25H-8.95M-12.65 -4.75H-8.95M-11.40 -2.50H-9.75M-9.15 -0.25v-0.9M-9.15 -4.75v0.9" stroke="#222" stroke-width="0.42" fill="none"/></g>
<text transform="translate(253.70 354.65) rotate(-90)" fill="#222" stroke="#222" stroke-width="0.1"><tspan x="-5.85" y="0.00" font-family='"Liberation Sans", sans-serif' font-size="6.3">[</tspan><tspan x="-4.15" y="0.00" font-family='"Liberation Sans", sans-serif' font-size="6.3">r</tspan><tspan x="-1.95" y="-2.90" font-family='"Liberation Sans", sans-serif' font-size="4.3">2</tspan><tspan x="2.25" y="0.00" font-family='"Liberation Sans", sans-serif' font-size="6.3">|</tspan><tspan x="6.20" y="0.00" font-family='"Liberation Sans", sans-serif' font-size="6.3">V</tspan><tspan x="10.95" y="0.00" font-family='"Liberation Sans", sans-serif' font-size="6.3">]</tspan></text>
<path d="M292.1 298.6H310.8" stroke="#FF9A00" stroke-width="1.3" fill="none"/>
<text transform="translate(322.60 300.70)" fill="#2a2a2a" stroke="#2a2a2a" stroke-width="0.12" xml:space="preserve"><tspan x="-7.10" y="0.00" font-family='"Liberation Sans", sans-serif' font-size="5.3">n</tspan><tspan x="-4.15" y="1.10" font-family='"Liberation Sans", sans-serif' font-size="3.7">T</tspan><tspan x="-1.89" y="0.00" font-family='"Liberation Sans", sans-serif' font-size="5.3">=30</tspan></text>
<path d="M292.1 304.4H310.8" stroke="#1CF010" stroke-width="1.3" fill="none"/>
<text transform="translate(322.60 306.50)" fill="#2a2a2a" stroke="#2a2a2a" stroke-width="0.12" xml:space="preserve"><tspan x="-7.10" y="0.00" font-family='"Liberation Sans", sans-serif' font-size="5.3">n</tspan><tspan x="-4.15" y="1.10" font-family='"Liberation Sans", sans-serif' font-size="3.7">T</tspan><tspan x="-1.89" y="0.00" font-family='"Liberation Sans", sans-serif' font-size="5.3">=15</tspan></text>
<path d="M292.1 310.2H310.8" stroke="#1A6CFF" stroke-width="1.3" fill="none"/>
<text transform="translate(322.60 312.30)" fill="#2a2a2a" stroke="#2a2a2a" stroke-width="0.12" xml:space="preserve"><tspan x="-5.63" y="0.00" font-family='"Liberation Sans", sans-serif' font-size="5.3">n</tspan><tspan x="-2.68" y="1.10" font-family='"Liberation Sans", sans-serif' font-size="3.7">T</tspan><tspan x="-0.42" y="0.00" font-family='"Liberation Sans", sans-serif' font-size="5.3">=5</tspan></text>
<text transform="translate(452.40 308.80)" fill="#2a2a2a" stroke="#2a2a2a" stroke-width="0.12" xml:space="preserve"><tspan x="-8.15" y="0.00" font-family='"Liberation Sans", sans-serif' font-size="6.4" font-style="italic">β</tspan><tspan x="-4.49" y="0.00" font-family='"Liberation Sans", sans-serif' font-size="6.4">=0.7</tspan></text>
<path d="M402.05 302.72L379.99 327.68L361.75 346.74L346.67 362.43L334.22 375L323.92 384.02L315.41 391.22L308.38 396.62L302.57 400.72L297.77 404.03L293.8 406.46L290.52 408.42L287.81 409.91L285.57 411.07L283.72 411.96L282.19 412.65L280.92 413.18L279.88 413.6L279.01 413.91L278.3 414.16L277.71 414.35L277.22 414.5L276.82 414.61" stroke="#FF9A00" stroke-width="1.6" fill="none" stroke-linejoin="round" stroke-linecap="round"/>
<path d="M402.5 299.24V306.2M401.55 299.24h1.9M401.55 306.2h1.9M302.57 400.28V401.16M297.77 403.68V404.38M293.8 406.11V406.81M290.52 408.07V408.77M287.81 409.56V410.26M285.57 410.72V411.42M283.72 411.61V412.31M282.19 412.3V413M280.92 412.83V413.53M279.88 413.25V413.95M279.01 413.56V414.26M278.3 413.81V414.51M277.71 414V414.7M277.22 414.15V414.85M276.82 414.26V414.96" stroke="#2a2a2a" stroke-width="0.55" fill="none"/>
<path d="M379.29 324.72h1.4v5.91h-1.4zM361.05 344.37h1.4v4.73h-1.4zM345.97 360.55h1.4v3.76h-1.4zM333.52 373.51h1.4v2.98h-1.4zM323.22 382.81h1.4v2.42h-1.4zM314.71 390.24h1.4v1.97h-1.4zM307.68 395.8h1.4v1.64h-1.4z" fill="#000" fill-opacity="0.62"/>
<g fill="#000"><ellipse cx="402.05" cy="302.72" rx="0.82" ry="1.05"/><ellipse cx="379.99" cy="327.68" rx="0.82" ry="1.05"/><ellipse cx="361.75" cy="346.74" rx="0.82" ry="1.05"/><ellipse cx="346.67" cy="362.43" rx="0.82" ry="1.05"/><ellipse cx="334.22" cy="375" rx="0.82" ry="1.05"/><ellipse cx="323.92" cy="384.02" rx="0.82" ry="1.05"/><ellipse cx="315.41" cy="391.22" rx="0.82" ry="1.05"/><ellipse cx="308.38" cy="396.62" rx="0.82" ry="1.05"/><ellipse cx="302.57" cy="400.72" rx="0.82" ry="1.05"/><ellipse cx="297.77" cy="404.03" rx="0.82" ry="1.05"/><ellipse cx="293.8" cy="406.46" rx="0.82" ry="1.05"/><ellipse cx="290.52" cy="408.42" rx="0.82" ry="1.05"/><ellipse cx="287.81" cy="409.91" rx="0.82" ry="1.05"/><ellipse cx="285.57" cy="411.07" rx="0.82" ry="1.05"/><ellipse cx="283.72" cy="411.96" rx="0.82" ry="1.05"/><ellipse cx="282.19" cy="412.65" rx="0.82" ry="1.05"/><ellipse cx="280.92" cy="413.18" rx="0.82" ry="1.05"/><ellipse cx="279.88" cy="413.6" rx="0.82" ry="1.05"/><ellipse cx="279.01" cy="413.91" rx="0.82" ry="1.05"/><ellipse cx="278.3" cy="414.16" rx="0.82" ry="1.05"/><ellipse cx="277.71" cy="414.35" rx="0.82" ry="1.05"/><ellipse cx="277.22" cy="414.5" rx="0.82" ry="1.05"/><ellipse cx="276.82" cy="414.61" rx="0.82" ry="1.05"/></g>
<path d="M428.76 323.55L402.05 343.37L379.99 359.54L361.75 370.16L346.67 379.78L334.22 387.98L323.92 393.88L315.41 398.6L308.38 402.37L302.57 405.15L297.77 407.29L293.8 409.24L290.52 410.55L287.81 411.56L285.57 412.34L283.72 412.94L282.19 413.41L280.92 413.77L279.88 414.05L279.01 414.27L278.3 414.43L277.71 414.56L277.22 414.66L276.82 414.74" stroke="#1CF010" stroke-width="1.6" fill="none" stroke-linejoin="round" stroke-linecap="round"/>
<path d="M308.38 401.97V402.78M302.57 404.8V405.5M297.77 406.94V407.64M293.8 408.89V409.59M290.52 410.2V410.9M287.81 411.21V411.91M285.57 411.99V412.69M283.72 412.59V413.29M282.19 413.06V413.76M280.92 413.42V414.12M279.88 413.7V414.4M279.01 413.92V414.62M278.3 414.08V414.78M277.71 414.21V414.91M277.22 414.31V415.01M276.82 414.39V415.09" stroke="#2a2a2a" stroke-width="0.55" fill="none"/>
<path d="M428.06 320.37h1.4v6.35h-1.4zM401.35 340.83h1.4v5.08h-1.4zM379.29 357.52h1.4v4.05h-1.4zM361.05 368.48h1.4v3.37h-1.4zM345.97 378.4h1.4v2.75h-1.4zM333.52 386.86h1.4v2.23h-1.4zM323.22 392.95h1.4v1.85h-1.4zM314.71 397.82h1.4v1.55h-1.4z" fill="#000" fill-opacity="0.62"/>
<g fill="#000"><ellipse cx="428.76" cy="323.55" rx="0.82" ry="1.05"/><ellipse cx="402.05" cy="343.37" rx="0.82" ry="1.05"/><ellipse cx="379.99" cy="359.54" rx="0.82" ry="1.05"/><ellipse cx="361.75" cy="370.16" rx="0.82" ry="1.05"/><ellipse cx="346.67" cy="379.78" rx="0.82" ry="1.05"/><ellipse cx="334.22" cy="387.98" rx="0.82" ry="1.05"/><ellipse cx="323.92" cy="393.88" rx="0.82" ry="1.05"/><ellipse cx="315.41" cy="398.6" rx="0.82" ry="1.05"/><ellipse cx="308.38" cy="402.37" rx="0.82" ry="1.05"/><ellipse cx="302.57" cy="405.15" rx="0.82" ry="1.05"/><ellipse cx="297.77" cy="407.29" rx="0.82" ry="1.05"/><ellipse cx="293.8" cy="409.24" rx="0.82" ry="1.05"/><ellipse cx="290.52" cy="410.55" rx="0.82" ry="1.05"/><ellipse cx="287.81" cy="411.56" rx="0.82" ry="1.05"/><ellipse cx="285.57" cy="412.34" rx="0.82" ry="1.05"/><ellipse cx="283.72" cy="412.94" rx="0.82" ry="1.05"/><ellipse cx="282.19" cy="413.41" rx="0.82" ry="1.05"/><ellipse cx="280.92" cy="413.77" rx="0.82" ry="1.05"/><ellipse cx="279.88" cy="414.05" rx="0.82" ry="1.05"/><ellipse cx="279.01" cy="414.27" rx="0.82" ry="1.05"/><ellipse cx="278.3" cy="414.43" rx="0.82" ry="1.05"/><ellipse cx="277.71" cy="414.56" rx="0.82" ry="1.05"/><ellipse cx="277.22" cy="414.66" rx="0.82" ry="1.05"/><ellipse cx="276.82" cy="414.74" rx="0.82" ry="1.05"/></g>
<path d="M461.06 336.5L428.76 351.63L402.05 364.26L379.99 376.73L361.75 384.32L346.67 390.87L334.22 396.15L323.92 400.72L315.41 403.68L308.38 406.46L302.57 408.42L297.77 410.06L293.8 411.38L290.52 412.23L287.81 412.88L285.57 413.37L283.72 413.75L282.19 414.05L280.92 414.27L279.88 414.44L279.01 414.57L278.3 414.67L277.71 414.75L277.22 414.81L276.82 414.85" stroke="#1A6CFF" stroke-width="1.6" fill="none" stroke-linejoin="round" stroke-linecap="round"/>
<path d="M315.41 403.25V404.11M308.38 406.11V406.81M302.57 408.07V408.77M297.77 409.71V410.41M293.8 411.03V411.73M290.52 411.88V412.58M287.81 412.53V413.23M285.57 413.02V413.72M283.72 413.4V414.1M282.19 413.7V414.4M280.92 413.92V414.62M279.88 414.09V414.79M279.01 414.22V414.92M278.3 414.32V415.02M277.71 414.4V415.1M277.22 414.46V415.16M276.82 414.5V415.2" stroke="#2a2a2a" stroke-width="0.55" fill="none"/>
<path d="M460.36 333.27h1.4v6.47h-1.4zM428.06 348.98h1.4v5.32h-1.4zM401.35 362.08h1.4v4.36h-1.4zM379.29 375.03h1.4v3.41h-1.4zM361.05 382.9h1.4v2.83h-1.4zM345.97 389.7h1.4v2.33h-1.4zM333.52 395.18h1.4v1.93h-1.4zM323.22 399.93h1.4v1.59h-1.4z" fill="#000" fill-opacity="0.62"/>
<g fill="#000"><ellipse cx="461.06" cy="336.5" rx="0.82" ry="1.05"/><ellipse cx="428.76" cy="351.63" rx="0.82" ry="1.05"/><ellipse cx="402.05" cy="364.26" rx="0.82" ry="1.05"/><ellipse cx="379.99" cy="376.73" rx="0.82" ry="1.05"/><ellipse cx="361.75" cy="384.32" rx="0.82" ry="1.05"/><ellipse cx="346.67" cy="390.87" rx="0.82" ry="1.05"/><ellipse cx="334.22" cy="396.15" rx="0.82" ry="1.05"/><ellipse cx="323.92" cy="400.72" rx="0.82" ry="1.05"/><ellipse cx="315.41" cy="403.68" rx="0.82" ry="1.05"/><ellipse cx="308.38" cy="406.46" rx="0.82" ry="1.05"/><ellipse cx="302.57" cy="408.42" rx="0.82" ry="1.05"/><ellipse cx="297.77" cy="410.06" rx="0.82" ry="1.05"/><ellipse cx="293.8" cy="411.38" rx="0.82" ry="1.05"/><ellipse cx="290.52" cy="412.23" rx="0.82" ry="1.05"/><ellipse cx="287.81" cy="412.88" rx="0.82" ry="1.05"/><ellipse cx="285.57" cy="413.37" rx="0.82" ry="1.05"/><ellipse cx="283.72" cy="413.75" rx="0.82" ry="1.05"/><ellipse cx="282.19" cy="414.05" rx="0.82" ry="1.05"/><ellipse cx="280.92" cy="414.27" rx="0.82" ry="1.05"/><ellipse cx="279.88" cy="414.44" rx="0.82" ry="1.05"/><ellipse cx="279.01" cy="414.57" rx="0.82" ry="1.05"/><ellipse cx="278.3" cy="414.67" rx="0.82" ry="1.05"/><ellipse cx="277.71" cy="414.75" rx="0.82" ry="1.05"/><ellipse cx="277.22" cy="414.81" rx="0.82" ry="1.05"/><ellipse cx="276.82" cy="414.85" rx="0.82" ry="1.05"/></g>
</svg>
</body></html>
